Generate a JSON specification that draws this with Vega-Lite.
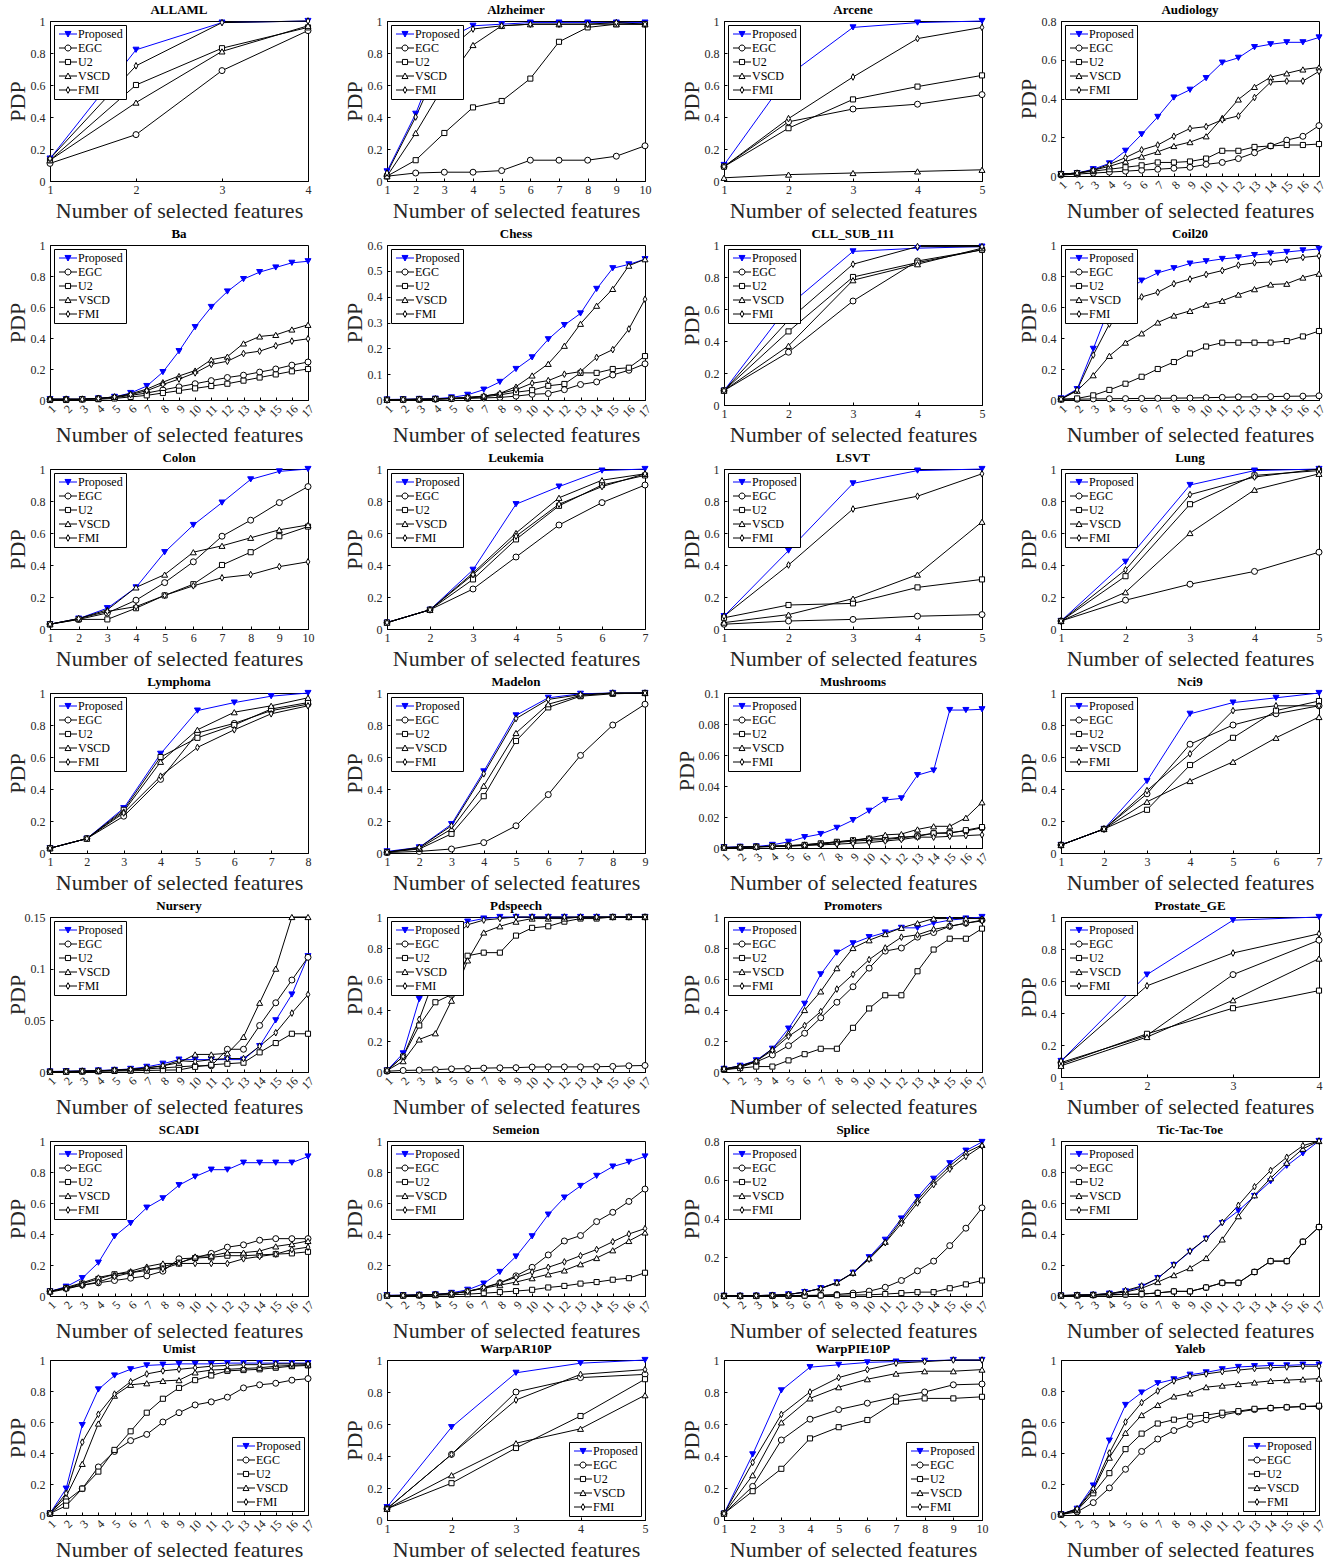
{
"$schema": "https://vega.github.io/schema/vega-lite/v6.json",
"background": "white",
"padding": {"left": 5, "top": 3, "right": 5, "bottom": 5},
"autosize": {"type": "pad"},
"data": {"values": [
{"d":"ALLAML","x":1,"Proposed":0.14,"EGC":0.11,"U2":0.13,"VSCD":0.13,"FMI":0.14},
{"d":"ALLAML","x":2,"Proposed":0.82,"EGC":0.29,"U2":0.60,"VSCD":0.49,"FMI":0.72},
{"d":"ALLAML","x":3,"Proposed":0.99,"EGC":0.69,"U2":0.83,"VSCD":0.81,"FMI":0.99},
{"d":"ALLAML","x":4,"Proposed":1.0,"EGC":0.94,"U2":0.96,"VSCD":0.97,"FMI":1.0},
{"d":"Alzheimer","x":1,"Proposed":0.06,"EGC":0.03,"U2":0.03,"VSCD":0.03,"FMI":0.05},
{"d":"Alzheimer","x":2,"Proposed":0.42,"EGC":0.05,"U2":0.13,"VSCD":0.30,"FMI":0.40},
{"d":"Alzheimer","x":3,"Proposed":0.88,"EGC":0.055,"U2":0.30,"VSCD":0.60,"FMI":0.80},
{"d":"Alzheimer","x":4,"Proposed":0.97,"EGC":0.055,"U2":0.46,"VSCD":0.85,"FMI":0.95},
{"d":"Alzheimer","x":5,"Proposed":0.98,"EGC":0.065,"U2":0.50,"VSCD":0.97,"FMI":0.97},
{"d":"Alzheimer","x":6,"Proposed":0.99,"EGC":0.13,"U2":0.64,"VSCD":0.98,"FMI":0.98},
{"d":"Alzheimer","x":7,"Proposed":0.99,"EGC":0.13,"U2":0.87,"VSCD":0.98,"FMI":0.98},
{"d":"Alzheimer","x":8,"Proposed":0.99,"EGC":0.13,"U2":0.96,"VSCD":0.98,"FMI":0.98},
{"d":"Alzheimer","x":9,"Proposed":0.99,"EGC":0.155,"U2":0.98,"VSCD":0.98,"FMI":0.99},
{"d":"Alzheimer","x":10,"Proposed":0.99,"EGC":0.22,"U2":0.98,"VSCD":0.98,"FMI":0.98},
{"d":"Arcene","x":1,"Proposed":0.10,"EGC":0.09,"U2":0.09,"VSCD":0.02,"FMI":0.09},
{"d":"Arcene","x":2,"Proposed":0.66,"EGC":0.37,"U2":0.33,"VSCD":0.04,"FMI":0.39},
{"d":"Arcene","x":3,"Proposed":0.96,"EGC":0.45,"U2":0.51,"VSCD":0.05,"FMI":0.65},
{"d":"Arcene","x":4,"Proposed":0.99,"EGC":0.48,"U2":0.59,"VSCD":0.06,"FMI":0.89},
{"d":"Arcene","x":5,"Proposed":1.0,"EGC":0.54,"U2":0.66,"VSCD":0.07,"FMI":0.96},
{"d":"Audiology","x":1,"Proposed":0.01,"EGC":0.005,"U2":0.01,"VSCD":0.01,"FMI":0.01},
{"d":"Audiology","x":2,"Proposed":0.015,"EGC":0.01,"U2":0.015,"VSCD":0.015,"FMI":0.015},
{"d":"Audiology","x":3,"Proposed":0.035,"EGC":0.015,"U2":0.025,"VSCD":0.03,"FMI":0.03},
{"d":"Audiology","x":4,"Proposed":0.065,"EGC":0.02,"U2":0.035,"VSCD":0.05,"FMI":0.06},
{"d":"Audiology","x":5,"Proposed":0.13,"EGC":0.025,"U2":0.045,"VSCD":0.075,"FMI":0.095},
{"d":"Audiology","x":6,"Proposed":0.215,"EGC":0.03,"U2":0.055,"VSCD":0.10,"FMI":0.135},
{"d":"Audiology","x":7,"Proposed":0.305,"EGC":0.035,"U2":0.07,"VSCD":0.125,"FMI":0.16},
{"d":"Audiology","x":8,"Proposed":0.405,"EGC":0.04,"U2":0.07,"VSCD":0.155,"FMI":0.205},
{"d":"Audiology","x":9,"Proposed":0.445,"EGC":0.045,"U2":0.075,"VSCD":0.175,"FMI":0.245},
{"d":"Audiology","x":10,"Proposed":0.505,"EGC":0.06,"U2":0.09,"VSCD":0.205,"FMI":0.255},
{"d":"Audiology","x":11,"Proposed":0.585,"EGC":0.07,"U2":0.13,"VSCD":0.30,"FMI":0.29},
{"d":"Audiology","x":12,"Proposed":0.61,"EGC":0.09,"U2":0.13,"VSCD":0.395,"FMI":0.31},
{"d":"Audiology","x":13,"Proposed":0.665,"EGC":0.12,"U2":0.15,"VSCD":0.46,"FMI":0.405},
{"d":"Audiology","x":14,"Proposed":0.68,"EGC":0.155,"U2":0.155,"VSCD":0.51,"FMI":0.485},
{"d":"Audiology","x":15,"Proposed":0.69,"EGC":0.185,"U2":0.16,"VSCD":0.53,"FMI":0.49},
{"d":"Audiology","x":16,"Proposed":0.69,"EGC":0.205,"U2":0.16,"VSCD":0.55,"FMI":0.49},
{"d":"Audiology","x":17,"Proposed":0.715,"EGC":0.26,"U2":0.165,"VSCD":0.56,"FMI":0.54},
{"d":"Ba","x":1,"Proposed":0.005,"EGC":0.005,"U2":0.0,"VSCD":0.005,"FMI":0.005},
{"d":"Ba","x":2,"Proposed":0.005,"EGC":0.005,"U2":0.0,"VSCD":0.005,"FMI":0.005},
{"d":"Ba","x":3,"Proposed":0.005,"EGC":0.005,"U2":0.005,"VSCD":0.005,"FMI":0.005},
{"d":"Ba","x":4,"Proposed":0.01,"EGC":0.01,"U2":0.005,"VSCD":0.01,"FMI":0.01},
{"d":"Ba","x":5,"Proposed":0.02,"EGC":0.015,"U2":0.01,"VSCD":0.02,"FMI":0.02},
{"d":"Ba","x":6,"Proposed":0.045,"EGC":0.03,"U2":0.02,"VSCD":0.04,"FMI":0.035},
{"d":"Ba","x":7,"Proposed":0.09,"EGC":0.045,"U2":0.03,"VSCD":0.07,"FMI":0.06},
{"d":"Ba","x":8,"Proposed":0.18,"EGC":0.065,"U2":0.045,"VSCD":0.115,"FMI":0.10},
{"d":"Ba","x":9,"Proposed":0.315,"EGC":0.085,"U2":0.06,"VSCD":0.155,"FMI":0.135},
{"d":"Ba","x":10,"Proposed":0.47,"EGC":0.105,"U2":0.075,"VSCD":0.19,"FMI":0.175},
{"d":"Ba","x":11,"Proposed":0.60,"EGC":0.125,"U2":0.09,"VSCD":0.26,"FMI":0.23},
{"d":"Ba","x":12,"Proposed":0.70,"EGC":0.145,"U2":0.105,"VSCD":0.28,"FMI":0.25},
{"d":"Ba","x":13,"Proposed":0.78,"EGC":0.16,"U2":0.125,"VSCD":0.365,"FMI":0.30},
{"d":"Ba","x":14,"Proposed":0.825,"EGC":0.18,"U2":0.145,"VSCD":0.41,"FMI":0.315},
{"d":"Ba","x":15,"Proposed":0.855,"EGC":0.20,"U2":0.165,"VSCD":0.42,"FMI":0.35},
{"d":"Ba","x":16,"Proposed":0.885,"EGC":0.225,"U2":0.185,"VSCD":0.455,"FMI":0.38},
{"d":"Ba","x":17,"Proposed":0.895,"EGC":0.245,"U2":0.20,"VSCD":0.485,"FMI":0.395},
{"d":"Chess","x":1,"Proposed":0.002,"EGC":0.0,"U2":0.001,"VSCD":0.001,"FMI":0.001},
{"d":"Chess","x":2,"Proposed":0.003,"EGC":0.001,"U2":0.002,"VSCD":0.002,"FMI":0.002},
{"d":"Chess","x":3,"Proposed":0.004,"EGC":0.002,"U2":0.003,"VSCD":0.003,"FMI":0.003},
{"d":"Chess","x":4,"Proposed":0.005,"EGC":0.003,"U2":0.004,"VSCD":0.004,"FMI":0.004},
{"d":"Chess","x":5,"Proposed":0.01,"EGC":0.005,"U2":0.006,"VSCD":0.006,"FMI":0.006},
{"d":"Chess","x":6,"Proposed":0.02,"EGC":0.006,"U2":0.008,"VSCD":0.01,"FMI":0.01},
{"d":"Chess","x":7,"Proposed":0.04,"EGC":0.008,"U2":0.012,"VSCD":0.015,"FMI":0.015},
{"d":"Chess","x":8,"Proposed":0.07,"EGC":0.01,"U2":0.02,"VSCD":0.025,"FMI":0.025},
{"d":"Chess","x":9,"Proposed":0.12,"EGC":0.015,"U2":0.03,"VSCD":0.052,"FMI":0.04},
{"d":"Chess","x":10,"Proposed":0.165,"EGC":0.022,"U2":0.038,"VSCD":0.095,"FMI":0.065},
{"d":"Chess","x":11,"Proposed":0.235,"EGC":0.025,"U2":0.055,"VSCD":0.14,"FMI":0.075},
{"d":"Chess","x":12,"Proposed":0.29,"EGC":0.04,"U2":0.062,"VSCD":0.21,"FMI":0.10},
{"d":"Chess","x":13,"Proposed":0.335,"EGC":0.06,"U2":0.105,"VSCD":0.295,"FMI":0.11},
{"d":"Chess","x":14,"Proposed":0.43,"EGC":0.07,"U2":0.105,"VSCD":0.365,"FMI":0.165},
{"d":"Chess","x":15,"Proposed":0.51,"EGC":0.097,"U2":0.12,"VSCD":0.43,"FMI":0.195},
{"d":"Chess","x":16,"Proposed":0.525,"EGC":0.115,"U2":0.125,"VSCD":0.52,"FMI":0.275},
{"d":"Chess","x":17,"Proposed":0.545,"EGC":0.14,"U2":0.17,"VSCD":0.545,"FMI":0.39},
{"d":"CLL_SUB_111","x":1,"Proposed":0.09,"EGC":0.09,"U2":0.09,"VSCD":0.09,"FMI":0.09},
{"d":"CLL_SUB_111","x":2,"Proposed":0.62,"EGC":0.33,"U2":0.46,"VSCD":0.37,"FMI":0.53},
{"d":"CLL_SUB_111","x":3,"Proposed":0.96,"EGC":0.65,"U2":0.80,"VSCD":0.78,"FMI":0.88},
{"d":"CLL_SUB_111","x":4,"Proposed":0.98,"EGC":0.90,"U2":0.89,"VSCD":0.88,"FMI":0.99},
{"d":"CLL_SUB_111","x":5,"Proposed":0.99,"EGC":0.97,"U2":0.97,"VSCD":0.98,"FMI":0.99},
{"d":"Coil20","x":1,"Proposed":0.01,"EGC":0.005,"U2":0.005,"VSCD":0.005,"FMI":0.005},
{"d":"Coil20","x":2,"Proposed":0.07,"EGC":0.005,"U2":0.01,"VSCD":0.06,"FMI":0.065},
{"d":"Coil20","x":3,"Proposed":0.33,"EGC":0.007,"U2":0.03,"VSCD":0.16,"FMI":0.29},
{"d":"Coil20","x":4,"Proposed":0.60,"EGC":0.008,"U2":0.065,"VSCD":0.285,"FMI":0.49},
{"d":"Coil20","x":5,"Proposed":0.70,"EGC":0.009,"U2":0.105,"VSCD":0.37,"FMI":0.60},
{"d":"Coil20","x":6,"Proposed":0.77,"EGC":0.01,"U2":0.15,"VSCD":0.43,"FMI":0.665},
{"d":"Coil20","x":7,"Proposed":0.82,"EGC":0.011,"U2":0.20,"VSCD":0.50,"FMI":0.695},
{"d":"Coil20","x":8,"Proposed":0.85,"EGC":0.012,"U2":0.245,"VSCD":0.545,"FMI":0.75},
{"d":"Coil20","x":9,"Proposed":0.88,"EGC":0.013,"U2":0.30,"VSCD":0.575,"FMI":0.78},
{"d":"Coil20","x":10,"Proposed":0.895,"EGC":0.015,"U2":0.345,"VSCD":0.615,"FMI":0.81},
{"d":"Coil20","x":11,"Proposed":0.91,"EGC":0.017,"U2":0.37,"VSCD":0.64,"FMI":0.835},
{"d":"Coil20","x":12,"Proposed":0.92,"EGC":0.02,"U2":0.37,"VSCD":0.68,"FMI":0.87},
{"d":"Coil20","x":13,"Proposed":0.935,"EGC":0.02,"U2":0.37,"VSCD":0.715,"FMI":0.885},
{"d":"Coil20","x":14,"Proposed":0.945,"EGC":0.022,"U2":0.37,"VSCD":0.745,"FMI":0.89},
{"d":"Coil20","x":15,"Proposed":0.955,"EGC":0.024,"U2":0.38,"VSCD":0.75,"FMI":0.905},
{"d":"Coil20","x":16,"Proposed":0.965,"EGC":0.025,"U2":0.41,"VSCD":0.79,"FMI":0.92},
{"d":"Coil20","x":17,"Proposed":0.975,"EGC":0.027,"U2":0.445,"VSCD":0.815,"FMI":0.93},
{"d":"Colon","x":1,"Proposed":0.03,"EGC":0.03,"U2":0.03,"VSCD":0.03,"FMI":0.03},
{"d":"Colon","x":2,"Proposed":0.065,"EGC":0.06,"U2":0.06,"VSCD":0.065,"FMI":0.065},
{"d":"Colon","x":3,"Proposed":0.13,"EGC":0.10,"U2":0.06,"VSCD":0.12,"FMI":0.11},
{"d":"Colon","x":4,"Proposed":0.26,"EGC":0.18,"U2":0.13,"VSCD":0.26,"FMI":0.14},
{"d":"Colon","x":5,"Proposed":0.48,"EGC":0.29,"U2":0.21,"VSCD":0.34,"FMI":0.21},
{"d":"Colon","x":6,"Proposed":0.65,"EGC":0.42,"U2":0.28,"VSCD":0.48,"FMI":0.27},
{"d":"Colon","x":7,"Proposed":0.79,"EGC":0.58,"U2":0.40,"VSCD":0.52,"FMI":0.32},
{"d":"Colon","x":8,"Proposed":0.935,"EGC":0.68,"U2":0.48,"VSCD":0.57,"FMI":0.34},
{"d":"Colon","x":9,"Proposed":0.985,"EGC":0.79,"U2":0.58,"VSCD":0.62,"FMI":0.39},
{"d":"Colon","x":10,"Proposed":1.0,"EGC":0.89,"U2":0.64,"VSCD":0.65,"FMI":0.42},
{"d":"Leukemia","x":1,"Proposed":0.04,"EGC":0.04,"U2":0.04,"VSCD":0.04,"FMI":0.04},
{"d":"Leukemia","x":2,"Proposed":0.12,"EGC":0.12,"U2":0.12,"VSCD":0.12,"FMI":0.12},
{"d":"Leukemia","x":3,"Proposed":0.37,"EGC":0.25,"U2":0.31,"VSCD":0.35,"FMI":0.34},
{"d":"Leukemia","x":4,"Proposed":0.78,"EGC":0.45,"U2":0.56,"VSCD":0.60,"FMI":0.58},
{"d":"Leukemia","x":5,"Proposed":0.89,"EGC":0.65,"U2":0.77,"VSCD":0.82,"FMI":0.78},
{"d":"Leukemia","x":6,"Proposed":0.99,"EGC":0.79,"U2":0.90,"VSCD":0.93,"FMI":0.89},
{"d":"Leukemia","x":7,"Proposed":1.0,"EGC":0.90,"U2":0.96,"VSCD":0.97,"FMI":0.97},
{"d":"LSVT","x":1,"Proposed":0.08,"EGC":0.03,"U2":0.07,"VSCD":0.04,"FMI":0.08},
{"d":"LSVT","x":2,"Proposed":0.49,"EGC":0.05,"U2":0.15,"VSCD":0.09,"FMI":0.40},
{"d":"LSVT","x":3,"Proposed":0.91,"EGC":0.06,"U2":0.16,"VSCD":0.19,"FMI":0.75},
{"d":"LSVT","x":4,"Proposed":0.99,"EGC":0.08,"U2":0.26,"VSCD":0.34,"FMI":0.83},
{"d":"LSVT","x":5,"Proposed":1.0,"EGC":0.09,"U2":0.31,"VSCD":0.67,"FMI":0.97},
{"d":"Lung","x":1,"Proposed":0.05,"EGC":0.05,"U2":0.05,"VSCD":0.05,"FMI":0.05},
{"d":"Lung","x":2,"Proposed":0.42,"EGC":0.18,"U2":0.33,"VSCD":0.23,"FMI":0.37},
{"d":"Lung","x":3,"Proposed":0.90,"EGC":0.28,"U2":0.78,"VSCD":0.60,"FMI":0.84},
{"d":"Lung","x":4,"Proposed":0.99,"EGC":0.36,"U2":0.96,"VSCD":0.87,"FMI":0.95},
{"d":"Lung","x":5,"Proposed":1.0,"EGC":0.48,"U2":0.99,"VSCD":0.97,"FMI":1.0},
{"d":"Lymphoma","x":1,"Proposed":0.03,"EGC":0.03,"U2":0.03,"VSCD":0.03,"FMI":0.03},
{"d":"Lymphoma","x":2,"Proposed":0.09,"EGC":0.09,"U2":0.09,"VSCD":0.09,"FMI":0.09},
{"d":"Lymphoma","x":3,"Proposed":0.28,"EGC":0.23,"U2":0.27,"VSCD":0.26,"FMI":0.25},
{"d":"Lymphoma","x":4,"Proposed":0.62,"EGC":0.46,"U2":0.60,"VSCD":0.57,"FMI":0.48},
{"d":"Lymphoma","x":5,"Proposed":0.89,"EGC":0.75,"U2":0.72,"VSCD":0.77,"FMI":0.66},
{"d":"Lymphoma","x":6,"Proposed":0.94,"EGC":0.81,"U2":0.80,"VSCD":0.88,"FMI":0.77},
{"d":"Lymphoma","x":7,"Proposed":0.98,"EGC":0.89,"U2":0.90,"VSCD":0.92,"FMI":0.87},
{"d":"Lymphoma","x":8,"Proposed":1.0,"EGC":0.93,"U2":0.94,"VSCD":0.97,"FMI":0.92},
{"d":"Madelon","x":1,"Proposed":0.01,"EGC":0.003,"U2":0.005,"VSCD":0.005,"FMI":0.005},
{"d":"Madelon","x":2,"Proposed":0.035,"EGC":0.01,"U2":0.025,"VSCD":0.03,"FMI":0.035},
{"d":"Madelon","x":3,"Proposed":0.18,"EGC":0.025,"U2":0.12,"VSCD":0.15,"FMI":0.17},
{"d":"Madelon","x":4,"Proposed":0.51,"EGC":0.065,"U2":0.355,"VSCD":0.42,"FMI":0.495},
{"d":"Madelon","x":5,"Proposed":0.86,"EGC":0.17,"U2":0.70,"VSCD":0.75,"FMI":0.84},
{"d":"Madelon","x":6,"Proposed":0.97,"EGC":0.365,"U2":0.91,"VSCD":0.93,"FMI":0.96},
{"d":"Madelon","x":7,"Proposed":0.995,"EGC":0.61,"U2":0.98,"VSCD":0.985,"FMI":0.99},
{"d":"Madelon","x":8,"Proposed":1.0,"EGC":0.80,"U2":0.995,"VSCD":1.0,"FMI":1.0},
{"d":"Madelon","x":9,"Proposed":1.0,"EGC":0.93,"U2":1.0,"VSCD":1.0,"FMI":1.0},
{"d":"Mushrooms","x":1,"Proposed":0.0005,"EGC":0.0003,"U2":0.0003,"VSCD":0.0003,"FMI":0.0002},
{"d":"Mushrooms","x":2,"Proposed":0.0008,"EGC":0.0005,"U2":0.0005,"VSCD":0.0005,"FMI":0.0004},
{"d":"Mushrooms","x":3,"Proposed":0.001,"EGC":0.0008,"U2":0.0008,"VSCD":0.0008,"FMI":0.0006},
{"d":"Mushrooms","x":4,"Proposed":0.002,"EGC":0.001,"U2":0.0012,"VSCD":0.0012,"FMI":0.0009},
{"d":"Mushrooms","x":5,"Proposed":0.004,"EGC":0.0013,"U2":0.0015,"VSCD":0.0015,"FMI":0.0012},
{"d":"Mushrooms","x":6,"Proposed":0.007,"EGC":0.0018,"U2":0.002,"VSCD":0.0022,"FMI":0.0016},
{"d":"Mushrooms","x":7,"Proposed":0.009,"EGC":0.0025,"U2":0.003,"VSCD":0.003,"FMI":0.002},
{"d":"Mushrooms","x":8,"Proposed":0.013,"EGC":0.0035,"U2":0.004,"VSCD":0.004,"FMI":0.0025},
{"d":"Mushrooms","x":9,"Proposed":0.018,"EGC":0.0045,"U2":0.005,"VSCD":0.005,"FMI":0.003},
{"d":"Mushrooms","x":10,"Proposed":0.024,"EGC":0.005,"U2":0.006,"VSCD":0.0065,"FMI":0.0035},
{"d":"Mushrooms","x":11,"Proposed":0.031,"EGC":0.0055,"U2":0.006,"VSCD":0.0085,"FMI":0.0045},
{"d":"Mushrooms","x":12,"Proposed":0.032,"EGC":0.0065,"U2":0.007,"VSCD":0.009,"FMI":0.0055},
{"d":"Mushrooms","x":13,"Proposed":0.047,"EGC":0.008,"U2":0.0075,"VSCD":0.012,"FMI":0.007},
{"d":"Mushrooms","x":14,"Proposed":0.05,"EGC":0.0095,"U2":0.0095,"VSCD":0.014,"FMI":0.007},
{"d":"Mushrooms","x":15,"Proposed":0.089,"EGC":0.01,"U2":0.0095,"VSCD":0.014,"FMI":0.0075},
{"d":"Mushrooms","x":16,"Proposed":0.089,"EGC":0.011,"U2":0.0115,"VSCD":0.0195,"FMI":0.008},
{"d":"Mushrooms","x":17,"Proposed":0.0895,"EGC":0.013,"U2":0.0135,"VSCD":0.0295,"FMI":0.0085},
{"d":"Nci9","x":1,"Proposed":0.05,"EGC":0.05,"U2":0.05,"VSCD":0.05,"FMI":0.05},
{"d":"Nci9","x":2,"Proposed":0.15,"EGC":0.15,"U2":0.15,"VSCD":0.15,"FMI":0.15},
{"d":"Nci9","x":3,"Proposed":0.45,"EGC":0.37,"U2":0.27,"VSCD":0.32,"FMI":0.39},
{"d":"Nci9","x":4,"Proposed":0.87,"EGC":0.68,"U2":0.55,"VSCD":0.45,"FMI":0.62},
{"d":"Nci9","x":5,"Proposed":0.94,"EGC":0.80,"U2":0.72,"VSCD":0.57,"FMI":0.89},
{"d":"Nci9","x":6,"Proposed":0.97,"EGC":0.87,"U2":0.89,"VSCD":0.72,"FMI":0.92},
{"d":"Nci9","x":7,"Proposed":1.0,"EGC":0.92,"U2":0.95,"VSCD":0.85,"FMI":0.92},
{"d":"Nursery","x":1,"Proposed":0.0005,"EGC":0.0003,"U2":0.0002,"VSCD":0.0003,"FMI":0.0003},
{"d":"Nursery","x":2,"Proposed":0.0008,"EGC":0.0005,"U2":0.0003,"VSCD":0.0005,"FMI":0.0005},
{"d":"Nursery","x":3,"Proposed":0.001,"EGC":0.0008,"U2":0.0005,"VSCD":0.0008,"FMI":0.0008},
{"d":"Nursery","x":4,"Proposed":0.0015,"EGC":0.001,"U2":0.0007,"VSCD":0.0012,"FMI":0.0012},
{"d":"Nursery","x":5,"Proposed":0.002,"EGC":0.0015,"U2":0.001,"VSCD":0.0018,"FMI":0.0018},
{"d":"Nursery","x":6,"Proposed":0.003,"EGC":0.002,"U2":0.0012,"VSCD":0.0025,"FMI":0.0025},
{"d":"Nursery","x":7,"Proposed":0.005,"EGC":0.003,"U2":0.0015,"VSCD":0.004,"FMI":0.004},
{"d":"Nursery","x":8,"Proposed":0.008,"EGC":0.004,"U2":0.0018,"VSCD":0.006,"FMI":0.006},
{"d":"Nursery","x":9,"Proposed":0.012,"EGC":0.005,"U2":0.002,"VSCD":0.009,"FMI":0.011},
{"d":"Nursery","x":10,"Proposed":0.012,"EGC":0.006,"U2":0.005,"VSCD":0.017,"FMI":0.010},
{"d":"Nursery","x":11,"Proposed":0.012,"EGC":0.006,"U2":0.007,"VSCD":0.017,"FMI":0.012},
{"d":"Nursery","x":12,"Proposed":0.012,"EGC":0.022,"U2":0.008,"VSCD":0.018,"FMI":0.013},
{"d":"Nursery","x":13,"Proposed":0.012,"EGC":0.022,"U2":0.009,"VSCD":0.034,"FMI":0.013},
{"d":"Nursery","x":14,"Proposed":0.025,"EGC":0.045,"U2":0.019,"VSCD":0.067,"FMI":0.025},
{"d":"Nursery","x":15,"Proposed":0.05,"EGC":0.067,"U2":0.028,"VSCD":0.10,"FMI":0.038},
{"d":"Nursery","x":16,"Proposed":0.075,"EGC":0.089,"U2":0.037,"VSCD":0.15,"FMI":0.057},
{"d":"Nursery","x":17,"Proposed":0.112,"EGC":0.111,"U2":0.037,"VSCD":0.15,"FMI":0.075},
{"d":"Pdspeech","x":1,"Proposed":0.01,"EGC":0.005,"U2":0.01,"VSCD":0.01,"FMI":0.01},
{"d":"Pdspeech","x":2,"Proposed":0.12,"EGC":0.01,"U2":0.10,"VSCD":0.07,"FMI":0.10},
{"d":"Pdspeech","x":3,"Proposed":0.47,"EGC":0.012,"U2":0.30,"VSCD":0.21,"FMI":0.34},
{"d":"Pdspeech","x":4,"Proposed":0.80,"EGC":0.015,"U2":0.45,"VSCD":0.25,"FMI":0.62},
{"d":"Pdspeech","x":5,"Proposed":0.93,"EGC":0.02,"U2":0.50,"VSCD":0.46,"FMI":0.85},
{"d":"Pdspeech","x":6,"Proposed":0.97,"EGC":0.022,"U2":0.75,"VSCD":0.72,"FMI":0.95},
{"d":"Pdspeech","x":7,"Proposed":0.99,"EGC":0.025,"U2":0.77,"VSCD":0.90,"FMI":0.98},
{"d":"Pdspeech","x":8,"Proposed":1.0,"EGC":0.027,"U2":0.77,"VSCD":0.94,"FMI":0.99},
{"d":"Pdspeech","x":9,"Proposed":1.0,"EGC":0.028,"U2":0.88,"VSCD":0.97,"FMI":1.0},
{"d":"Pdspeech","x":10,"Proposed":1.0,"EGC":0.032,"U2":0.93,"VSCD":0.99,"FMI":1.0},
{"d":"Pdspeech","x":11,"Proposed":1.0,"EGC":0.033,"U2":0.94,"VSCD":0.99,"FMI":1.0},
{"d":"Pdspeech","x":12,"Proposed":1.0,"EGC":0.033,"U2":0.97,"VSCD":0.99,"FMI":1.0},
{"d":"Pdspeech","x":13,"Proposed":1.0,"EGC":0.033,"U2":0.99,"VSCD":1.0,"FMI":1.0},
{"d":"Pdspeech","x":14,"Proposed":1.0,"EGC":0.034,"U2":0.99,"VSCD":1.0,"FMI":1.0},
{"d":"Pdspeech","x":15,"Proposed":1.0,"EGC":0.036,"U2":1.0,"VSCD":1.0,"FMI":1.0},
{"d":"Pdspeech","x":16,"Proposed":1.0,"EGC":0.04,"U2":1.0,"VSCD":1.0,"FMI":1.0},
{"d":"Pdspeech","x":17,"Proposed":1.0,"EGC":0.042,"U2":1.0,"VSCD":1.0,"FMI":1.0},
{"d":"Promoters","x":1,"Proposed":0.02,"EGC":0.015,"U2":0.015,"VSCD":0.02,"FMI":0.02},
{"d":"Promoters","x":2,"Proposed":0.04,"EGC":0.03,"U2":0.025,"VSCD":0.04,"FMI":0.035},
{"d":"Promoters","x":3,"Proposed":0.075,"EGC":0.065,"U2":0.035,"VSCD":0.07,"FMI":0.07},
{"d":"Promoters","x":4,"Proposed":0.15,"EGC":0.11,"U2":0.035,"VSCD":0.15,"FMI":0.14},
{"d":"Promoters","x":5,"Proposed":0.28,"EGC":0.17,"U2":0.075,"VSCD":0.25,"FMI":0.23},
{"d":"Promoters","x":6,"Proposed":0.44,"EGC":0.25,"U2":0.115,"VSCD":0.40,"FMI":0.30},
{"d":"Promoters","x":7,"Proposed":0.63,"EGC":0.35,"U2":0.15,"VSCD":0.52,"FMI":0.39},
{"d":"Promoters","x":8,"Proposed":0.77,"EGC":0.45,"U2":0.15,"VSCD":0.67,"FMI":0.535},
{"d":"Promoters","x":9,"Proposed":0.83,"EGC":0.55,"U2":0.285,"VSCD":0.80,"FMI":0.63},
{"d":"Promoters","x":10,"Proposed":0.87,"EGC":0.67,"U2":0.41,"VSCD":0.85,"FMI":0.725},
{"d":"Promoters","x":11,"Proposed":0.90,"EGC":0.78,"U2":0.495,"VSCD":0.89,"FMI":0.80},
{"d":"Promoters","x":12,"Proposed":0.93,"EGC":0.80,"U2":0.495,"VSCD":0.93,"FMI":0.87},
{"d":"Promoters","x":13,"Proposed":0.93,"EGC":0.87,"U2":0.65,"VSCD":0.96,"FMI":0.885},
{"d":"Promoters","x":14,"Proposed":0.96,"EGC":0.90,"U2":0.79,"VSCD":0.99,"FMI":0.92},
{"d":"Promoters","x":15,"Proposed":0.98,"EGC":0.94,"U2":0.86,"VSCD":0.99,"FMI":0.94},
{"d":"Promoters","x":16,"Proposed":0.99,"EGC":0.96,"U2":0.86,"VSCD":0.99,"FMI":0.96},
{"d":"Promoters","x":17,"Proposed":1.0,"EGC":0.98,"U2":0.925,"VSCD":0.99,"FMI":0.975},
{"d":"Prostate_GE","x":1,"Proposed":0.10,"EGC":0.09,"U2":0.08,"VSCD":0.07,"FMI":0.10},
{"d":"Prostate_GE","x":2,"Proposed":0.64,"EGC":0.26,"U2":0.27,"VSCD":0.25,"FMI":0.57},
{"d":"Prostate_GE","x":3,"Proposed":0.98,"EGC":0.64,"U2":0.43,"VSCD":0.48,"FMI":0.775},
{"d":"Prostate_GE","x":4,"Proposed":1.0,"EGC":0.855,"U2":0.54,"VSCD":0.74,"FMI":0.895},
{"d":"SCADI","x":1,"Proposed":0.03,"EGC":0.03,"U2":0.03,"VSCD":0.03,"FMI":0.025},
{"d":"SCADI","x":2,"Proposed":0.06,"EGC":0.05,"U2":0.05,"VSCD":0.055,"FMI":0.045},
{"d":"SCADI","x":3,"Proposed":0.115,"EGC":0.07,"U2":0.08,"VSCD":0.085,"FMI":0.07},
{"d":"SCADI","x":4,"Proposed":0.215,"EGC":0.085,"U2":0.11,"VSCD":0.12,"FMI":0.09},
{"d":"SCADI","x":5,"Proposed":0.385,"EGC":0.10,"U2":0.14,"VSCD":0.14,"FMI":0.125},
{"d":"SCADI","x":6,"Proposed":0.47,"EGC":0.115,"U2":0.15,"VSCD":0.16,"FMI":0.15},
{"d":"SCADI","x":7,"Proposed":0.57,"EGC":0.13,"U2":0.165,"VSCD":0.19,"FMI":0.175},
{"d":"SCADI","x":8,"Proposed":0.63,"EGC":0.16,"U2":0.19,"VSCD":0.21,"FMI":0.175},
{"d":"SCADI","x":9,"Proposed":0.715,"EGC":0.24,"U2":0.215,"VSCD":0.21,"FMI":0.21},
{"d":"SCADI","x":10,"Proposed":0.77,"EGC":0.245,"U2":0.245,"VSCD":0.255,"FMI":0.21},
{"d":"SCADI","x":11,"Proposed":0.815,"EGC":0.275,"U2":0.25,"VSCD":0.26,"FMI":0.21},
{"d":"SCADI","x":12,"Proposed":0.815,"EGC":0.315,"U2":0.26,"VSCD":0.28,"FMI":0.21},
{"d":"SCADI","x":13,"Proposed":0.86,"EGC":0.33,"U2":0.26,"VSCD":0.28,"FMI":0.24},
{"d":"SCADI","x":14,"Proposed":0.86,"EGC":0.36,"U2":0.265,"VSCD":0.29,"FMI":0.255},
{"d":"SCADI","x":15,"Proposed":0.86,"EGC":0.37,"U2":0.27,"VSCD":0.32,"FMI":0.27},
{"d":"SCADI","x":16,"Proposed":0.86,"EGC":0.37,"U2":0.275,"VSCD":0.335,"FMI":0.30},
{"d":"SCADI","x":17,"Proposed":0.90,"EGC":0.37,"U2":0.285,"VSCD":0.355,"FMI":0.315},
{"d":"Semeion","x":1,"Proposed":0.005,"EGC":0.003,"U2":0.002,"VSCD":0.003,"FMI":0.003},
{"d":"Semeion","x":2,"Proposed":0.005,"EGC":0.004,"U2":0.003,"VSCD":0.004,"FMI":0.004},
{"d":"Semeion","x":3,"Proposed":0.008,"EGC":0.006,"U2":0.004,"VSCD":0.006,"FMI":0.006},
{"d":"Semeion","x":4,"Proposed":0.01,"EGC":0.01,"U2":0.005,"VSCD":0.01,"FMI":0.01},
{"d":"Semeion","x":5,"Proposed":0.02,"EGC":0.015,"U2":0.008,"VSCD":0.015,"FMI":0.015},
{"d":"Semeion","x":6,"Proposed":0.04,"EGC":0.03,"U2":0.012,"VSCD":0.03,"FMI":0.03},
{"d":"Semeion","x":7,"Proposed":0.08,"EGC":0.05,"U2":0.018,"VSCD":0.05,"FMI":0.055},
{"d":"Semeion","x":8,"Proposed":0.155,"EGC":0.085,"U2":0.025,"VSCD":0.07,"FMI":0.085},
{"d":"Semeion","x":9,"Proposed":0.255,"EGC":0.13,"U2":0.032,"VSCD":0.09,"FMI":0.12},
{"d":"Semeion","x":10,"Proposed":0.385,"EGC":0.185,"U2":0.04,"VSCD":0.115,"FMI":0.155},
{"d":"Semeion","x":11,"Proposed":0.525,"EGC":0.265,"U2":0.055,"VSCD":0.14,"FMI":0.185},
{"d":"Semeion","x":12,"Proposed":0.635,"EGC":0.355,"U2":0.065,"VSCD":0.165,"FMI":0.22},
{"d":"Semeion","x":13,"Proposed":0.71,"EGC":0.39,"U2":0.08,"VSCD":0.205,"FMI":0.26},
{"d":"Semeion","x":14,"Proposed":0.775,"EGC":0.48,"U2":0.09,"VSCD":0.245,"FMI":0.30},
{"d":"Semeion","x":15,"Proposed":0.835,"EGC":0.54,"U2":0.105,"VSCD":0.295,"FMI":0.35},
{"d":"Semeion","x":16,"Proposed":0.865,"EGC":0.61,"U2":0.115,"VSCD":0.355,"FMI":0.40},
{"d":"Semeion","x":17,"Proposed":0.90,"EGC":0.69,"U2":0.15,"VSCD":0.41,"FMI":0.435},
{"d":"Splice","x":1,"Proposed":0.001,"EGC":0.0,"U2":0.0,"VSCD":0.001,"FMI":0.001},
{"d":"Splice","x":2,"Proposed":0.001,"EGC":0.0,"U2":0.0,"VSCD":0.001,"FMI":0.001},
{"d":"Splice","x":3,"Proposed":0.002,"EGC":0.001,"U2":0.0,"VSCD":0.002,"FMI":0.002},
{"d":"Splice","x":4,"Proposed":0.004,"EGC":0.001,"U2":0.001,"VSCD":0.004,"FMI":0.004},
{"d":"Splice","x":5,"Proposed":0.008,"EGC":0.002,"U2":0.001,"VSCD":0.008,"FMI":0.008},
{"d":"Splice","x":6,"Proposed":0.02,"EGC":0.003,"U2":0.002,"VSCD":0.02,"FMI":0.02},
{"d":"Splice","x":7,"Proposed":0.04,"EGC":0.004,"U2":0.003,"VSCD":0.04,"FMI":0.038},
{"d":"Splice","x":8,"Proposed":0.07,"EGC":0.008,"U2":0.004,"VSCD":0.07,"FMI":0.068},
{"d":"Splice","x":9,"Proposed":0.12,"EGC":0.015,"U2":0.005,"VSCD":0.12,"FMI":0.118},
{"d":"Splice","x":10,"Proposed":0.20,"EGC":0.025,"U2":0.006,"VSCD":0.195,"FMI":0.19},
{"d":"Splice","x":11,"Proposed":0.29,"EGC":0.045,"U2":0.01,"VSCD":0.28,"FMI":0.275},
{"d":"Splice","x":12,"Proposed":0.40,"EGC":0.08,"U2":0.015,"VSCD":0.39,"FMI":0.375},
{"d":"Splice","x":13,"Proposed":0.51,"EGC":0.13,"U2":0.02,"VSCD":0.495,"FMI":0.48},
{"d":"Splice","x":14,"Proposed":0.605,"EGC":0.18,"U2":0.02,"VSCD":0.59,"FMI":0.575},
{"d":"Splice","x":15,"Proposed":0.685,"EGC":0.26,"U2":0.04,"VSCD":0.67,"FMI":0.655},
{"d":"Splice","x":16,"Proposed":0.75,"EGC":0.35,"U2":0.06,"VSCD":0.74,"FMI":0.72},
{"d":"Splice","x":17,"Proposed":0.795,"EGC":0.455,"U2":0.08,"VSCD":0.78,"FMI":0.775},
{"d":"Tic-Tac-Toe","x":1,"Proposed":0.003,"EGC":0.003,"U2":0.003,"VSCD":0.003,"FMI":0.003},
{"d":"Tic-Tac-Toe","x":2,"Proposed":0.005,"EGC":0.005,"U2":0.005,"VSCD":0.005,"FMI":0.005},
{"d":"Tic-Tac-Toe","x":3,"Proposed":0.008,"EGC":0.006,"U2":0.006,"VSCD":0.008,"FMI":0.008},
{"d":"Tic-Tac-Toe","x":4,"Proposed":0.015,"EGC":0.008,"U2":0.008,"VSCD":0.015,"FMI":0.015},
{"d":"Tic-Tac-Toe","x":5,"Proposed":0.03,"EGC":0.01,"U2":0.01,"VSCD":0.025,"FMI":0.035},
{"d":"Tic-Tac-Toe","x":6,"Proposed":0.06,"EGC":0.012,"U2":0.012,"VSCD":0.05,"FMI":0.065},
{"d":"Tic-Tac-Toe","x":7,"Proposed":0.115,"EGC":0.02,"U2":0.02,"VSCD":0.09,"FMI":0.115},
{"d":"Tic-Tac-Toe","x":8,"Proposed":0.20,"EGC":0.03,"U2":0.03,"VSCD":0.135,"FMI":0.20},
{"d":"Tic-Tac-Toe","x":9,"Proposed":0.285,"EGC":0.03,"U2":0.03,"VSCD":0.18,"FMI":0.29},
{"d":"Tic-Tac-Toe","x":10,"Proposed":0.37,"EGC":0.055,"U2":0.055,"VSCD":0.245,"FMI":0.37},
{"d":"Tic-Tac-Toe","x":11,"Proposed":0.47,"EGC":0.085,"U2":0.085,"VSCD":0.365,"FMI":0.475},
{"d":"Tic-Tac-Toe","x":12,"Proposed":0.55,"EGC":0.085,"U2":0.085,"VSCD":0.515,"FMI":0.585},
{"d":"Tic-Tac-Toe","x":13,"Proposed":0.645,"EGC":0.155,"U2":0.155,"VSCD":0.65,"FMI":0.705},
{"d":"Tic-Tac-Toe","x":14,"Proposed":0.74,"EGC":0.225,"U2":0.225,"VSCD":0.76,"FMI":0.81},
{"d":"Tic-Tac-Toe","x":15,"Proposed":0.84,"EGC":0.225,"U2":0.225,"VSCD":0.86,"FMI":0.895},
{"d":"Tic-Tac-Toe","x":16,"Proposed":0.92,"EGC":0.35,"U2":0.35,"VSCD":0.95,"FMI":0.97},
{"d":"Tic-Tac-Toe","x":17,"Proposed":1.0,"EGC":0.445,"U2":0.445,"VSCD":1.0,"FMI":1.0},
{"d":"Umist","x":1,"Proposed":0.01,"EGC":0.01,"U2":0.01,"VSCD":0.01,"FMI":0.01},
{"d":"Umist","x":2,"Proposed":0.17,"EGC":0.09,"U2":0.06,"VSCD":0.12,"FMI":0.14},
{"d":"Umist","x":3,"Proposed":0.58,"EGC":0.17,"U2":0.17,"VSCD":0.33,"FMI":0.47},
{"d":"Umist","x":4,"Proposed":0.81,"EGC":0.31,"U2":0.28,"VSCD":0.59,"FMI":0.65},
{"d":"Umist","x":5,"Proposed":0.90,"EGC":0.41,"U2":0.42,"VSCD":0.77,"FMI":0.78},
{"d":"Umist","x":6,"Proposed":0.94,"EGC":0.48,"U2":0.54,"VSCD":0.84,"FMI":0.86},
{"d":"Umist","x":7,"Proposed":0.965,"EGC":0.52,"U2":0.66,"VSCD":0.85,"FMI":0.91},
{"d":"Umist","x":8,"Proposed":0.97,"EGC":0.60,"U2":0.75,"VSCD":0.865,"FMI":0.93},
{"d":"Umist","x":9,"Proposed":0.975,"EGC":0.66,"U2":0.82,"VSCD":0.87,"FMI":0.94},
{"d":"Umist","x":10,"Proposed":0.975,"EGC":0.71,"U2":0.87,"VSCD":0.92,"FMI":0.95},
{"d":"Umist","x":11,"Proposed":0.975,"EGC":0.73,"U2":0.90,"VSCD":0.935,"FMI":0.96},
{"d":"Umist","x":12,"Proposed":0.98,"EGC":0.76,"U2":0.93,"VSCD":0.94,"FMI":0.965},
{"d":"Umist","x":13,"Proposed":0.98,"EGC":0.82,"U2":0.935,"VSCD":0.945,"FMI":0.97},
{"d":"Umist","x":14,"Proposed":0.98,"EGC":0.84,"U2":0.94,"VSCD":0.95,"FMI":0.97},
{"d":"Umist","x":15,"Proposed":0.98,"EGC":0.85,"U2":0.95,"VSCD":0.96,"FMI":0.975},
{"d":"Umist","x":16,"Proposed":0.98,"EGC":0.87,"U2":0.96,"VSCD":0.965,"FMI":0.975},
{"d":"Umist","x":17,"Proposed":0.98,"EGC":0.88,"U2":0.965,"VSCD":0.97,"FMI":0.975},
{"d":"WarpAR10P","x":1,"Proposed":0.08,"EGC":0.07,"U2":0.07,"VSCD":0.07,"FMI":0.07},
{"d":"WarpAR10P","x":2,"Proposed":0.58,"EGC":0.41,"U2":0.23,"VSCD":0.28,"FMI":0.41},
{"d":"WarpAR10P","x":3,"Proposed":0.92,"EGC":0.80,"U2":0.45,"VSCD":0.48,"FMI":0.75},
{"d":"WarpAR10P","x":4,"Proposed":0.98,"EGC":0.89,"U2":0.65,"VSCD":0.57,"FMI":0.91},
{"d":"WarpAR10P","x":5,"Proposed":1.0,"EGC":0.91,"U2":0.88,"VSCD":0.78,"FMI":0.94},
{"d":"WarpPIE10P","x":1,"Proposed":0.04,"EGC":0.04,"U2":0.04,"VSCD":0.04,"FMI":0.04},
{"d":"WarpPIE10P","x":2,"Proposed":0.41,"EGC":0.21,"U2":0.18,"VSCD":0.28,"FMI":0.36},
{"d":"WarpPIE10P","x":3,"Proposed":0.81,"EGC":0.50,"U2":0.32,"VSCD":0.61,"FMI":0.66},
{"d":"WarpPIE10P","x":4,"Proposed":0.955,"EGC":0.63,"U2":0.51,"VSCD":0.76,"FMI":0.80},
{"d":"WarpPIE10P","x":5,"Proposed":0.97,"EGC":0.69,"U2":0.58,"VSCD":0.83,"FMI":0.89},
{"d":"WarpPIE10P","x":6,"Proposed":0.985,"EGC":0.73,"U2":0.625,"VSCD":0.88,"FMI":0.94},
{"d":"WarpPIE10P","x":7,"Proposed":0.99,"EGC":0.77,"U2":0.74,"VSCD":0.915,"FMI":0.98},
{"d":"WarpPIE10P","x":8,"Proposed":0.995,"EGC":0.80,"U2":0.76,"VSCD":0.93,"FMI":0.99},
{"d":"WarpPIE10P","x":9,"Proposed":1.0,"EGC":0.845,"U2":0.76,"VSCD":0.93,"FMI":1.0},
{"d":"WarpPIE10P","x":10,"Proposed":1.0,"EGC":0.85,"U2":0.77,"VSCD":0.94,"FMI":1.0},
{"d":"Yaleb","x":1,"Proposed":0.005,"EGC":0.003,"U2":0.003,"VSCD":0.005,"FMI":0.005},
{"d":"Yaleb","x":2,"Proposed":0.04,"EGC":0.02,"U2":0.03,"VSCD":0.035,"FMI":0.04},
{"d":"Yaleb","x":3,"Proposed":0.19,"EGC":0.08,"U2":0.14,"VSCD":0.16,"FMI":0.17},
{"d":"Yaleb","x":4,"Proposed":0.48,"EGC":0.175,"U2":0.27,"VSCD":0.37,"FMI":0.40},
{"d":"Yaleb","x":5,"Proposed":0.71,"EGC":0.295,"U2":0.425,"VSCD":0.53,"FMI":0.60},
{"d":"Yaleb","x":6,"Proposed":0.79,"EGC":0.41,"U2":0.525,"VSCD":0.645,"FMI":0.725},
{"d":"Yaleb","x":7,"Proposed":0.85,"EGC":0.49,"U2":0.59,"VSCD":0.71,"FMI":0.80},
{"d":"Yaleb","x":8,"Proposed":0.875,"EGC":0.545,"U2":0.615,"VSCD":0.765,"FMI":0.865},
{"d":"Yaleb","x":9,"Proposed":0.905,"EGC":0.585,"U2":0.635,"VSCD":0.785,"FMI":0.895},
{"d":"Yaleb","x":10,"Proposed":0.92,"EGC":0.615,"U2":0.645,"VSCD":0.825,"FMI":0.91},
{"d":"Yaleb","x":11,"Proposed":0.94,"EGC":0.645,"U2":0.66,"VSCD":0.835,"FMI":0.925},
{"d":"Yaleb","x":12,"Proposed":0.955,"EGC":0.665,"U2":0.67,"VSCD":0.845,"FMI":0.935},
{"d":"Yaleb","x":13,"Proposed":0.96,"EGC":0.68,"U2":0.685,"VSCD":0.855,"FMI":0.945},
{"d":"Yaleb","x":14,"Proposed":0.965,"EGC":0.69,"U2":0.69,"VSCD":0.865,"FMI":0.95},
{"d":"Yaleb","x":15,"Proposed":0.965,"EGC":0.695,"U2":0.695,"VSCD":0.87,"FMI":0.955},
{"d":"Yaleb","x":16,"Proposed":0.97,"EGC":0.70,"U2":0.70,"VSCD":0.875,"FMI":0.96},
{"d":"Yaleb","x":17,"Proposed":0.97,"EGC":0.70,"U2":0.705,"VSCD":0.88,"FMI":0.96}
]},
"transform": [{"fold": ["Proposed","EGC","U2","VSCD","FMI"], "as": ["s","v"]}],
"columns": 4,
"bounds": "flush",
"spacing": {"row": 64, "column": 79},
"concat": [
{"title":"ALLAML","width":258,"height":160,"transform":[{"filter":"datum.d==='ALLAML'"}],"encoding":{"x":{"field":"x","type":"quantitative","scale":{"domain":[1,4]},"axis":{"values":[1,2,3,4],"title":"Number of selected features"}},"y":{"field":"v","type":"quantitative","scale":{"domain":[0,1]},"axis":{"values":[0,0.2,0.4,0.6,0.8,1],"format":"~f","title":"PDP"}}},"layer":[
{"mark":{"type":"line","strokeWidth":1},"encoding":{"stroke":{"field":"s","type":"nominal","legend":null,"scale":{"domain":["Proposed","EGC","U2","VSCD","FMI"],"range":["#0000ff","black","black","black","black"]}}}},
{"mark":{"type":"point","filled":true,"opacity":1,"size":36,"strokeWidth":1},"encoding":{"shape":{"field":"s","type":"nominal","legend":null,"scale":{"domain":["Proposed","EGC","U2","VSCD","FMI"],"range":["triangle-down","circle","M-0.85,-0.85H0.85V0.85H-0.85Z","triangle-up","M0,-1.1L0.6,0L0,1.1L-0.6,0Z"]}},"stroke":{"field":"s","type":"nominal","legend":null,"scale":{"domain":["Proposed","EGC","U2","VSCD","FMI"],"range":["#0000ff","black","black","black","black"]}},"fill":{"field":"s","type":"nominal","legend":null,"scale":{"domain":["Proposed","EGC","U2","VSCD","FMI"],"range":["#0000ff","white","white","white","white"]}}}},
{"transform":[{"filter":"false"}],"mark":{"type":"point","filled":true,"opacity":1,"size":36,"strokeWidth":1},"encoding":{"shape":{"field":"s","type":"nominal","legend":{"title":null},"scale":{"domain":["Proposed","EGC","U2","VSCD","FMI"],"range":["M-3,0H-0.55M0.55,0H3M-1,-0.85H1L0,1Z","M-3,0H-1M1,0H3M-1,0A1,1,0,1,0,1,0A1,1,0,1,0,-1,0Z","M-3,0H-0.85M0.85,0H3M-0.85,-0.85H0.85V0.85H-0.85Z","M-3,0H-0.55M0.55,0H3M0,-1L1,0.85H-1Z","M-3,0H-0.6M0.6,0H3M0,-1.1L0.6,0L0,1.1L-0.6,0Z"]}},"stroke":{"field":"s","type":"nominal","legend":{"title":null},"scale":{"domain":["Proposed","EGC","U2","VSCD","FMI"],"range":["#0000ff","black","black","black","black"]}},"fill":{"field":"s","type":"nominal","legend":{"title":null},"scale":{"domain":["Proposed","EGC","U2","VSCD","FMI"],"range":["#0000ff","white","white","white","white"]}}}}
],"resolve":{"scale":{"shape":"independent","stroke":"independent","fill":"independent"}}},
{"title":"Alzheimer","width":258,"height":160,"transform":[{"filter":"datum.d==='Alzheimer'"}],"encoding":{"x":{"field":"x","type":"quantitative","scale":{"domain":[1,10]},"axis":{"values":[1,2,3,4,5,6,7,8,9,10],"title":"Number of selected features"}},"y":{"field":"v","type":"quantitative","scale":{"domain":[0,1]},"axis":{"values":[0,0.2,0.4,0.6,0.8,1],"format":"~f","title":"PDP"}}},"layer":[
{"mark":{"type":"line","strokeWidth":1},"encoding":{"stroke":{"field":"s","type":"nominal","legend":null,"scale":{"domain":["Proposed","EGC","U2","VSCD","FMI"],"range":["#0000ff","black","black","black","black"]}}}},
{"mark":{"type":"point","filled":true,"opacity":1,"size":36,"strokeWidth":1},"encoding":{"shape":{"field":"s","type":"nominal","legend":null,"scale":{"domain":["Proposed","EGC","U2","VSCD","FMI"],"range":["triangle-down","circle","M-0.85,-0.85H0.85V0.85H-0.85Z","triangle-up","M0,-1.1L0.6,0L0,1.1L-0.6,0Z"]}},"stroke":{"field":"s","type":"nominal","legend":null,"scale":{"domain":["Proposed","EGC","U2","VSCD","FMI"],"range":["#0000ff","black","black","black","black"]}},"fill":{"field":"s","type":"nominal","legend":null,"scale":{"domain":["Proposed","EGC","U2","VSCD","FMI"],"range":["#0000ff","white","white","white","white"]}}}},
{"transform":[{"filter":"false"}],"mark":{"type":"point","filled":true,"opacity":1,"size":36,"strokeWidth":1},"encoding":{"shape":{"field":"s","type":"nominal","legend":{"title":null},"scale":{"domain":["Proposed","EGC","U2","VSCD","FMI"],"range":["M-3,0H-0.55M0.55,0H3M-1,-0.85H1L0,1Z","M-3,0H-1M1,0H3M-1,0A1,1,0,1,0,1,0A1,1,0,1,0,-1,0Z","M-3,0H-0.85M0.85,0H3M-0.85,-0.85H0.85V0.85H-0.85Z","M-3,0H-0.55M0.55,0H3M0,-1L1,0.85H-1Z","M-3,0H-0.6M0.6,0H3M0,-1.1L0.6,0L0,1.1L-0.6,0Z"]}},"stroke":{"field":"s","type":"nominal","legend":{"title":null},"scale":{"domain":["Proposed","EGC","U2","VSCD","FMI"],"range":["#0000ff","black","black","black","black"]}},"fill":{"field":"s","type":"nominal","legend":{"title":null},"scale":{"domain":["Proposed","EGC","U2","VSCD","FMI"],"range":["#0000ff","white","white","white","white"]}}}}
],"resolve":{"scale":{"shape":"independent","stroke":"independent","fill":"independent"}}},
{"title":"Arcene","width":258,"height":160,"transform":[{"filter":"datum.d==='Arcene'"}],"encoding":{"x":{"field":"x","type":"quantitative","scale":{"domain":[1,5]},"axis":{"values":[1,2,3,4,5],"title":"Number of selected features"}},"y":{"field":"v","type":"quantitative","scale":{"domain":[0,1]},"axis":{"values":[0,0.2,0.4,0.6,0.8,1],"format":"~f","title":"PDP"}}},"layer":[
{"mark":{"type":"line","strokeWidth":1},"encoding":{"stroke":{"field":"s","type":"nominal","legend":null,"scale":{"domain":["Proposed","EGC","U2","VSCD","FMI"],"range":["#0000ff","black","black","black","black"]}}}},
{"mark":{"type":"point","filled":true,"opacity":1,"size":36,"strokeWidth":1},"encoding":{"shape":{"field":"s","type":"nominal","legend":null,"scale":{"domain":["Proposed","EGC","U2","VSCD","FMI"],"range":["triangle-down","circle","M-0.85,-0.85H0.85V0.85H-0.85Z","triangle-up","M0,-1.1L0.6,0L0,1.1L-0.6,0Z"]}},"stroke":{"field":"s","type":"nominal","legend":null,"scale":{"domain":["Proposed","EGC","U2","VSCD","FMI"],"range":["#0000ff","black","black","black","black"]}},"fill":{"field":"s","type":"nominal","legend":null,"scale":{"domain":["Proposed","EGC","U2","VSCD","FMI"],"range":["#0000ff","white","white","white","white"]}}}},
{"transform":[{"filter":"false"}],"mark":{"type":"point","filled":true,"opacity":1,"size":36,"strokeWidth":1},"encoding":{"shape":{"field":"s","type":"nominal","legend":{"title":null},"scale":{"domain":["Proposed","EGC","U2","VSCD","FMI"],"range":["M-3,0H-0.55M0.55,0H3M-1,-0.85H1L0,1Z","M-3,0H-1M1,0H3M-1,0A1,1,0,1,0,1,0A1,1,0,1,0,-1,0Z","M-3,0H-0.85M0.85,0H3M-0.85,-0.85H0.85V0.85H-0.85Z","M-3,0H-0.55M0.55,0H3M0,-1L1,0.85H-1Z","M-3,0H-0.6M0.6,0H3M0,-1.1L0.6,0L0,1.1L-0.6,0Z"]}},"stroke":{"field":"s","type":"nominal","legend":{"title":null},"scale":{"domain":["Proposed","EGC","U2","VSCD","FMI"],"range":["#0000ff","black","black","black","black"]}},"fill":{"field":"s","type":"nominal","legend":{"title":null},"scale":{"domain":["Proposed","EGC","U2","VSCD","FMI"],"range":["#0000ff","white","white","white","white"]}}}}
],"resolve":{"scale":{"shape":"independent","stroke":"independent","fill":"independent"}}},
{"title":"Audiology","width":258,"height":155,"transform":[{"filter":"datum.d==='Audiology'"}],"encoding":{"x":{"field":"x","type":"quantitative","scale":{"domain":[1,17]},"axis":{"values":[1,2,3,4,5,6,7,8,9,10,11,12,13,14,15,16,17],"labelAngle":-45,"titleY":24,"title":"Number of selected features"}},"y":{"field":"v","type":"quantitative","scale":{"domain":[0,0.8]},"axis":{"values":[0,0.2,0.4,0.6,0.8],"format":"~f","title":"PDP"}}},"layer":[
{"mark":{"type":"line","strokeWidth":1},"encoding":{"stroke":{"field":"s","type":"nominal","legend":null,"scale":{"domain":["Proposed","EGC","U2","VSCD","FMI"],"range":["#0000ff","black","black","black","black"]}}}},
{"mark":{"type":"point","filled":true,"opacity":1,"size":36,"strokeWidth":1},"encoding":{"shape":{"field":"s","type":"nominal","legend":null,"scale":{"domain":["Proposed","EGC","U2","VSCD","FMI"],"range":["triangle-down","circle","M-0.85,-0.85H0.85V0.85H-0.85Z","triangle-up","M0,-1.1L0.6,0L0,1.1L-0.6,0Z"]}},"stroke":{"field":"s","type":"nominal","legend":null,"scale":{"domain":["Proposed","EGC","U2","VSCD","FMI"],"range":["#0000ff","black","black","black","black"]}},"fill":{"field":"s","type":"nominal","legend":null,"scale":{"domain":["Proposed","EGC","U2","VSCD","FMI"],"range":["#0000ff","white","white","white","white"]}}}},
{"transform":[{"filter":"false"}],"mark":{"type":"point","filled":true,"opacity":1,"size":36,"strokeWidth":1},"encoding":{"shape":{"field":"s","type":"nominal","legend":{"title":null},"scale":{"domain":["Proposed","EGC","U2","VSCD","FMI"],"range":["M-3,0H-0.55M0.55,0H3M-1,-0.85H1L0,1Z","M-3,0H-1M1,0H3M-1,0A1,1,0,1,0,1,0A1,1,0,1,0,-1,0Z","M-3,0H-0.85M0.85,0H3M-0.85,-0.85H0.85V0.85H-0.85Z","M-3,0H-0.55M0.55,0H3M0,-1L1,0.85H-1Z","M-3,0H-0.6M0.6,0H3M0,-1.1L0.6,0L0,1.1L-0.6,0Z"]}},"stroke":{"field":"s","type":"nominal","legend":{"title":null},"scale":{"domain":["Proposed","EGC","U2","VSCD","FMI"],"range":["#0000ff","black","black","black","black"]}},"fill":{"field":"s","type":"nominal","legend":{"title":null},"scale":{"domain":["Proposed","EGC","U2","VSCD","FMI"],"range":["#0000ff","white","white","white","white"]}}}}
],"resolve":{"scale":{"shape":"independent","stroke":"independent","fill":"independent"}}},
{"title":"Ba","width":258,"height":155,"transform":[{"filter":"datum.d==='Ba'"}],"encoding":{"x":{"field":"x","type":"quantitative","scale":{"domain":[1,17]},"axis":{"values":[1,2,3,4,5,6,7,8,9,10,11,12,13,14,15,16,17],"labelAngle":-45,"titleY":24,"title":"Number of selected features"}},"y":{"field":"v","type":"quantitative","scale":{"domain":[0,1]},"axis":{"values":[0,0.2,0.4,0.6,0.8,1],"format":"~f","title":"PDP"}}},"layer":[
{"mark":{"type":"line","strokeWidth":1},"encoding":{"stroke":{"field":"s","type":"nominal","legend":null,"scale":{"domain":["Proposed","EGC","U2","VSCD","FMI"],"range":["#0000ff","black","black","black","black"]}}}},
{"mark":{"type":"point","filled":true,"opacity":1,"size":36,"strokeWidth":1},"encoding":{"shape":{"field":"s","type":"nominal","legend":null,"scale":{"domain":["Proposed","EGC","U2","VSCD","FMI"],"range":["triangle-down","circle","M-0.85,-0.85H0.85V0.85H-0.85Z","triangle-up","M0,-1.1L0.6,0L0,1.1L-0.6,0Z"]}},"stroke":{"field":"s","type":"nominal","legend":null,"scale":{"domain":["Proposed","EGC","U2","VSCD","FMI"],"range":["#0000ff","black","black","black","black"]}},"fill":{"field":"s","type":"nominal","legend":null,"scale":{"domain":["Proposed","EGC","U2","VSCD","FMI"],"range":["#0000ff","white","white","white","white"]}}}},
{"transform":[{"filter":"false"}],"mark":{"type":"point","filled":true,"opacity":1,"size":36,"strokeWidth":1},"encoding":{"shape":{"field":"s","type":"nominal","legend":{"title":null},"scale":{"domain":["Proposed","EGC","U2","VSCD","FMI"],"range":["M-3,0H-0.55M0.55,0H3M-1,-0.85H1L0,1Z","M-3,0H-1M1,0H3M-1,0A1,1,0,1,0,1,0A1,1,0,1,0,-1,0Z","M-3,0H-0.85M0.85,0H3M-0.85,-0.85H0.85V0.85H-0.85Z","M-3,0H-0.55M0.55,0H3M0,-1L1,0.85H-1Z","M-3,0H-0.6M0.6,0H3M0,-1.1L0.6,0L0,1.1L-0.6,0Z"]}},"stroke":{"field":"s","type":"nominal","legend":{"title":null},"scale":{"domain":["Proposed","EGC","U2","VSCD","FMI"],"range":["#0000ff","black","black","black","black"]}},"fill":{"field":"s","type":"nominal","legend":{"title":null},"scale":{"domain":["Proposed","EGC","U2","VSCD","FMI"],"range":["#0000ff","white","white","white","white"]}}}}
],"resolve":{"scale":{"shape":"independent","stroke":"independent","fill":"independent"}}},
{"title":"Chess","width":258,"height":155,"transform":[{"filter":"datum.d==='Chess'"}],"encoding":{"x":{"field":"x","type":"quantitative","scale":{"domain":[1,17]},"axis":{"values":[1,2,3,4,5,6,7,8,9,10,11,12,13,14,15,16,17],"labelAngle":-45,"titleY":24,"title":"Number of selected features"}},"y":{"field":"v","type":"quantitative","scale":{"domain":[0,0.6]},"axis":{"values":[0,0.1,0.2,0.3,0.4,0.5,0.6],"format":"~f","title":"PDP"}}},"layer":[
{"mark":{"type":"line","strokeWidth":1},"encoding":{"stroke":{"field":"s","type":"nominal","legend":null,"scale":{"domain":["Proposed","EGC","U2","VSCD","FMI"],"range":["#0000ff","black","black","black","black"]}}}},
{"mark":{"type":"point","filled":true,"opacity":1,"size":36,"strokeWidth":1},"encoding":{"shape":{"field":"s","type":"nominal","legend":null,"scale":{"domain":["Proposed","EGC","U2","VSCD","FMI"],"range":["triangle-down","circle","M-0.85,-0.85H0.85V0.85H-0.85Z","triangle-up","M0,-1.1L0.6,0L0,1.1L-0.6,0Z"]}},"stroke":{"field":"s","type":"nominal","legend":null,"scale":{"domain":["Proposed","EGC","U2","VSCD","FMI"],"range":["#0000ff","black","black","black","black"]}},"fill":{"field":"s","type":"nominal","legend":null,"scale":{"domain":["Proposed","EGC","U2","VSCD","FMI"],"range":["#0000ff","white","white","white","white"]}}}},
{"transform":[{"filter":"false"}],"mark":{"type":"point","filled":true,"opacity":1,"size":36,"strokeWidth":1},"encoding":{"shape":{"field":"s","type":"nominal","legend":{"title":null},"scale":{"domain":["Proposed","EGC","U2","VSCD","FMI"],"range":["M-3,0H-0.55M0.55,0H3M-1,-0.85H1L0,1Z","M-3,0H-1M1,0H3M-1,0A1,1,0,1,0,1,0A1,1,0,1,0,-1,0Z","M-3,0H-0.85M0.85,0H3M-0.85,-0.85H0.85V0.85H-0.85Z","M-3,0H-0.55M0.55,0H3M0,-1L1,0.85H-1Z","M-3,0H-0.6M0.6,0H3M0,-1.1L0.6,0L0,1.1L-0.6,0Z"]}},"stroke":{"field":"s","type":"nominal","legend":{"title":null},"scale":{"domain":["Proposed","EGC","U2","VSCD","FMI"],"range":["#0000ff","black","black","black","black"]}},"fill":{"field":"s","type":"nominal","legend":{"title":null},"scale":{"domain":["Proposed","EGC","U2","VSCD","FMI"],"range":["#0000ff","white","white","white","white"]}}}}
],"resolve":{"scale":{"shape":"independent","stroke":"independent","fill":"independent"}}},
{"title":"CLL_SUB_111","width":258,"height":160,"transform":[{"filter":"datum.d==='CLL_SUB_111'"}],"encoding":{"x":{"field":"x","type":"quantitative","scale":{"domain":[1,5]},"axis":{"values":[1,2,3,4,5],"title":"Number of selected features"}},"y":{"field":"v","type":"quantitative","scale":{"domain":[0,1]},"axis":{"values":[0,0.2,0.4,0.6,0.8,1],"format":"~f","title":"PDP"}}},"layer":[
{"mark":{"type":"line","strokeWidth":1},"encoding":{"stroke":{"field":"s","type":"nominal","legend":null,"scale":{"domain":["Proposed","EGC","U2","VSCD","FMI"],"range":["#0000ff","black","black","black","black"]}}}},
{"mark":{"type":"point","filled":true,"opacity":1,"size":36,"strokeWidth":1},"encoding":{"shape":{"field":"s","type":"nominal","legend":null,"scale":{"domain":["Proposed","EGC","U2","VSCD","FMI"],"range":["triangle-down","circle","M-0.85,-0.85H0.85V0.85H-0.85Z","triangle-up","M0,-1.1L0.6,0L0,1.1L-0.6,0Z"]}},"stroke":{"field":"s","type":"nominal","legend":null,"scale":{"domain":["Proposed","EGC","U2","VSCD","FMI"],"range":["#0000ff","black","black","black","black"]}},"fill":{"field":"s","type":"nominal","legend":null,"scale":{"domain":["Proposed","EGC","U2","VSCD","FMI"],"range":["#0000ff","white","white","white","white"]}}}},
{"transform":[{"filter":"false"}],"mark":{"type":"point","filled":true,"opacity":1,"size":36,"strokeWidth":1},"encoding":{"shape":{"field":"s","type":"nominal","legend":{"title":null},"scale":{"domain":["Proposed","EGC","U2","VSCD","FMI"],"range":["M-3,0H-0.55M0.55,0H3M-1,-0.85H1L0,1Z","M-3,0H-1M1,0H3M-1,0A1,1,0,1,0,1,0A1,1,0,1,0,-1,0Z","M-3,0H-0.85M0.85,0H3M-0.85,-0.85H0.85V0.85H-0.85Z","M-3,0H-0.55M0.55,0H3M0,-1L1,0.85H-1Z","M-3,0H-0.6M0.6,0H3M0,-1.1L0.6,0L0,1.1L-0.6,0Z"]}},"stroke":{"field":"s","type":"nominal","legend":{"title":null},"scale":{"domain":["Proposed","EGC","U2","VSCD","FMI"],"range":["#0000ff","black","black","black","black"]}},"fill":{"field":"s","type":"nominal","legend":{"title":null},"scale":{"domain":["Proposed","EGC","U2","VSCD","FMI"],"range":["#0000ff","white","white","white","white"]}}}}
],"resolve":{"scale":{"shape":"independent","stroke":"independent","fill":"independent"}}},
{"title":"Coil20","width":258,"height":155,"transform":[{"filter":"datum.d==='Coil20'"}],"encoding":{"x":{"field":"x","type":"quantitative","scale":{"domain":[1,17]},"axis":{"values":[1,2,3,4,5,6,7,8,9,10,11,12,13,14,15,16,17],"labelAngle":-45,"titleY":24,"title":"Number of selected features"}},"y":{"field":"v","type":"quantitative","scale":{"domain":[0,1]},"axis":{"values":[0,0.2,0.4,0.6,0.8,1],"format":"~f","title":"PDP"}}},"layer":[
{"mark":{"type":"line","strokeWidth":1},"encoding":{"stroke":{"field":"s","type":"nominal","legend":null,"scale":{"domain":["Proposed","EGC","U2","VSCD","FMI"],"range":["#0000ff","black","black","black","black"]}}}},
{"mark":{"type":"point","filled":true,"opacity":1,"size":36,"strokeWidth":1},"encoding":{"shape":{"field":"s","type":"nominal","legend":null,"scale":{"domain":["Proposed","EGC","U2","VSCD","FMI"],"range":["triangle-down","circle","M-0.85,-0.85H0.85V0.85H-0.85Z","triangle-up","M0,-1.1L0.6,0L0,1.1L-0.6,0Z"]}},"stroke":{"field":"s","type":"nominal","legend":null,"scale":{"domain":["Proposed","EGC","U2","VSCD","FMI"],"range":["#0000ff","black","black","black","black"]}},"fill":{"field":"s","type":"nominal","legend":null,"scale":{"domain":["Proposed","EGC","U2","VSCD","FMI"],"range":["#0000ff","white","white","white","white"]}}}},
{"transform":[{"filter":"false"}],"mark":{"type":"point","filled":true,"opacity":1,"size":36,"strokeWidth":1},"encoding":{"shape":{"field":"s","type":"nominal","legend":{"title":null},"scale":{"domain":["Proposed","EGC","U2","VSCD","FMI"],"range":["M-3,0H-0.55M0.55,0H3M-1,-0.85H1L0,1Z","M-3,0H-1M1,0H3M-1,0A1,1,0,1,0,1,0A1,1,0,1,0,-1,0Z","M-3,0H-0.85M0.85,0H3M-0.85,-0.85H0.85V0.85H-0.85Z","M-3,0H-0.55M0.55,0H3M0,-1L1,0.85H-1Z","M-3,0H-0.6M0.6,0H3M0,-1.1L0.6,0L0,1.1L-0.6,0Z"]}},"stroke":{"field":"s","type":"nominal","legend":{"title":null},"scale":{"domain":["Proposed","EGC","U2","VSCD","FMI"],"range":["#0000ff","black","black","black","black"]}},"fill":{"field":"s","type":"nominal","legend":{"title":null},"scale":{"domain":["Proposed","EGC","U2","VSCD","FMI"],"range":["#0000ff","white","white","white","white"]}}}}
],"resolve":{"scale":{"shape":"independent","stroke":"independent","fill":"independent"}}},
{"title":"Colon","width":258,"height":160,"transform":[{"filter":"datum.d==='Colon'"}],"encoding":{"x":{"field":"x","type":"quantitative","scale":{"domain":[1,10]},"axis":{"values":[1,2,3,4,5,6,7,8,9,10],"title":"Number of selected features"}},"y":{"field":"v","type":"quantitative","scale":{"domain":[0,1]},"axis":{"values":[0,0.2,0.4,0.6,0.8,1],"format":"~f","title":"PDP"}}},"layer":[
{"mark":{"type":"line","strokeWidth":1},"encoding":{"stroke":{"field":"s","type":"nominal","legend":null,"scale":{"domain":["Proposed","EGC","U2","VSCD","FMI"],"range":["#0000ff","black","black","black","black"]}}}},
{"mark":{"type":"point","filled":true,"opacity":1,"size":36,"strokeWidth":1},"encoding":{"shape":{"field":"s","type":"nominal","legend":null,"scale":{"domain":["Proposed","EGC","U2","VSCD","FMI"],"range":["triangle-down","circle","M-0.85,-0.85H0.85V0.85H-0.85Z","triangle-up","M0,-1.1L0.6,0L0,1.1L-0.6,0Z"]}},"stroke":{"field":"s","type":"nominal","legend":null,"scale":{"domain":["Proposed","EGC","U2","VSCD","FMI"],"range":["#0000ff","black","black","black","black"]}},"fill":{"field":"s","type":"nominal","legend":null,"scale":{"domain":["Proposed","EGC","U2","VSCD","FMI"],"range":["#0000ff","white","white","white","white"]}}}},
{"transform":[{"filter":"false"}],"mark":{"type":"point","filled":true,"opacity":1,"size":36,"strokeWidth":1},"encoding":{"shape":{"field":"s","type":"nominal","legend":{"title":null},"scale":{"domain":["Proposed","EGC","U2","VSCD","FMI"],"range":["M-3,0H-0.55M0.55,0H3M-1,-0.85H1L0,1Z","M-3,0H-1M1,0H3M-1,0A1,1,0,1,0,1,0A1,1,0,1,0,-1,0Z","M-3,0H-0.85M0.85,0H3M-0.85,-0.85H0.85V0.85H-0.85Z","M-3,0H-0.55M0.55,0H3M0,-1L1,0.85H-1Z","M-3,0H-0.6M0.6,0H3M0,-1.1L0.6,0L0,1.1L-0.6,0Z"]}},"stroke":{"field":"s","type":"nominal","legend":{"title":null},"scale":{"domain":["Proposed","EGC","U2","VSCD","FMI"],"range":["#0000ff","black","black","black","black"]}},"fill":{"field":"s","type":"nominal","legend":{"title":null},"scale":{"domain":["Proposed","EGC","U2","VSCD","FMI"],"range":["#0000ff","white","white","white","white"]}}}}
],"resolve":{"scale":{"shape":"independent","stroke":"independent","fill":"independent"}}},
{"title":"Leukemia","width":258,"height":160,"transform":[{"filter":"datum.d==='Leukemia'"}],"encoding":{"x":{"field":"x","type":"quantitative","scale":{"domain":[1,7]},"axis":{"values":[1,2,3,4,5,6,7],"title":"Number of selected features"}},"y":{"field":"v","type":"quantitative","scale":{"domain":[0,1]},"axis":{"values":[0,0.2,0.4,0.6,0.8,1],"format":"~f","title":"PDP"}}},"layer":[
{"mark":{"type":"line","strokeWidth":1},"encoding":{"stroke":{"field":"s","type":"nominal","legend":null,"scale":{"domain":["Proposed","EGC","U2","VSCD","FMI"],"range":["#0000ff","black","black","black","black"]}}}},
{"mark":{"type":"point","filled":true,"opacity":1,"size":36,"strokeWidth":1},"encoding":{"shape":{"field":"s","type":"nominal","legend":null,"scale":{"domain":["Proposed","EGC","U2","VSCD","FMI"],"range":["triangle-down","circle","M-0.85,-0.85H0.85V0.85H-0.85Z","triangle-up","M0,-1.1L0.6,0L0,1.1L-0.6,0Z"]}},"stroke":{"field":"s","type":"nominal","legend":null,"scale":{"domain":["Proposed","EGC","U2","VSCD","FMI"],"range":["#0000ff","black","black","black","black"]}},"fill":{"field":"s","type":"nominal","legend":null,"scale":{"domain":["Proposed","EGC","U2","VSCD","FMI"],"range":["#0000ff","white","white","white","white"]}}}},
{"transform":[{"filter":"false"}],"mark":{"type":"point","filled":true,"opacity":1,"size":36,"strokeWidth":1},"encoding":{"shape":{"field":"s","type":"nominal","legend":{"title":null},"scale":{"domain":["Proposed","EGC","U2","VSCD","FMI"],"range":["M-3,0H-0.55M0.55,0H3M-1,-0.85H1L0,1Z","M-3,0H-1M1,0H3M-1,0A1,1,0,1,0,1,0A1,1,0,1,0,-1,0Z","M-3,0H-0.85M0.85,0H3M-0.85,-0.85H0.85V0.85H-0.85Z","M-3,0H-0.55M0.55,0H3M0,-1L1,0.85H-1Z","M-3,0H-0.6M0.6,0H3M0,-1.1L0.6,0L0,1.1L-0.6,0Z"]}},"stroke":{"field":"s","type":"nominal","legend":{"title":null},"scale":{"domain":["Proposed","EGC","U2","VSCD","FMI"],"range":["#0000ff","black","black","black","black"]}},"fill":{"field":"s","type":"nominal","legend":{"title":null},"scale":{"domain":["Proposed","EGC","U2","VSCD","FMI"],"range":["#0000ff","white","white","white","white"]}}}}
],"resolve":{"scale":{"shape":"independent","stroke":"independent","fill":"independent"}}},
{"title":"LSVT","width":258,"height":160,"transform":[{"filter":"datum.d==='LSVT'"}],"encoding":{"x":{"field":"x","type":"quantitative","scale":{"domain":[1,5]},"axis":{"values":[1,2,3,4,5],"title":"Number of selected features"}},"y":{"field":"v","type":"quantitative","scale":{"domain":[0,1]},"axis":{"values":[0,0.2,0.4,0.6,0.8,1],"format":"~f","title":"PDP"}}},"layer":[
{"mark":{"type":"line","strokeWidth":1},"encoding":{"stroke":{"field":"s","type":"nominal","legend":null,"scale":{"domain":["Proposed","EGC","U2","VSCD","FMI"],"range":["#0000ff","black","black","black","black"]}}}},
{"mark":{"type":"point","filled":true,"opacity":1,"size":36,"strokeWidth":1},"encoding":{"shape":{"field":"s","type":"nominal","legend":null,"scale":{"domain":["Proposed","EGC","U2","VSCD","FMI"],"range":["triangle-down","circle","M-0.85,-0.85H0.85V0.85H-0.85Z","triangle-up","M0,-1.1L0.6,0L0,1.1L-0.6,0Z"]}},"stroke":{"field":"s","type":"nominal","legend":null,"scale":{"domain":["Proposed","EGC","U2","VSCD","FMI"],"range":["#0000ff","black","black","black","black"]}},"fill":{"field":"s","type":"nominal","legend":null,"scale":{"domain":["Proposed","EGC","U2","VSCD","FMI"],"range":["#0000ff","white","white","white","white"]}}}},
{"transform":[{"filter":"false"}],"mark":{"type":"point","filled":true,"opacity":1,"size":36,"strokeWidth":1},"encoding":{"shape":{"field":"s","type":"nominal","legend":{"title":null},"scale":{"domain":["Proposed","EGC","U2","VSCD","FMI"],"range":["M-3,0H-0.55M0.55,0H3M-1,-0.85H1L0,1Z","M-3,0H-1M1,0H3M-1,0A1,1,0,1,0,1,0A1,1,0,1,0,-1,0Z","M-3,0H-0.85M0.85,0H3M-0.85,-0.85H0.85V0.85H-0.85Z","M-3,0H-0.55M0.55,0H3M0,-1L1,0.85H-1Z","M-3,0H-0.6M0.6,0H3M0,-1.1L0.6,0L0,1.1L-0.6,0Z"]}},"stroke":{"field":"s","type":"nominal","legend":{"title":null},"scale":{"domain":["Proposed","EGC","U2","VSCD","FMI"],"range":["#0000ff","black","black","black","black"]}},"fill":{"field":"s","type":"nominal","legend":{"title":null},"scale":{"domain":["Proposed","EGC","U2","VSCD","FMI"],"range":["#0000ff","white","white","white","white"]}}}}
],"resolve":{"scale":{"shape":"independent","stroke":"independent","fill":"independent"}}},
{"title":"Lung","width":258,"height":160,"transform":[{"filter":"datum.d==='Lung'"}],"encoding":{"x":{"field":"x","type":"quantitative","scale":{"domain":[1,5]},"axis":{"values":[1,2,3,4,5],"title":"Number of selected features"}},"y":{"field":"v","type":"quantitative","scale":{"domain":[0,1]},"axis":{"values":[0,0.2,0.4,0.6,0.8,1],"format":"~f","title":"PDP"}}},"layer":[
{"mark":{"type":"line","strokeWidth":1},"encoding":{"stroke":{"field":"s","type":"nominal","legend":null,"scale":{"domain":["Proposed","EGC","U2","VSCD","FMI"],"range":["#0000ff","black","black","black","black"]}}}},
{"mark":{"type":"point","filled":true,"opacity":1,"size":36,"strokeWidth":1},"encoding":{"shape":{"field":"s","type":"nominal","legend":null,"scale":{"domain":["Proposed","EGC","U2","VSCD","FMI"],"range":["triangle-down","circle","M-0.85,-0.85H0.85V0.85H-0.85Z","triangle-up","M0,-1.1L0.6,0L0,1.1L-0.6,0Z"]}},"stroke":{"field":"s","type":"nominal","legend":null,"scale":{"domain":["Proposed","EGC","U2","VSCD","FMI"],"range":["#0000ff","black","black","black","black"]}},"fill":{"field":"s","type":"nominal","legend":null,"scale":{"domain":["Proposed","EGC","U2","VSCD","FMI"],"range":["#0000ff","white","white","white","white"]}}}},
{"transform":[{"filter":"false"}],"mark":{"type":"point","filled":true,"opacity":1,"size":36,"strokeWidth":1},"encoding":{"shape":{"field":"s","type":"nominal","legend":{"title":null},"scale":{"domain":["Proposed","EGC","U2","VSCD","FMI"],"range":["M-3,0H-0.55M0.55,0H3M-1,-0.85H1L0,1Z","M-3,0H-1M1,0H3M-1,0A1,1,0,1,0,1,0A1,1,0,1,0,-1,0Z","M-3,0H-0.85M0.85,0H3M-0.85,-0.85H0.85V0.85H-0.85Z","M-3,0H-0.55M0.55,0H3M0,-1L1,0.85H-1Z","M-3,0H-0.6M0.6,0H3M0,-1.1L0.6,0L0,1.1L-0.6,0Z"]}},"stroke":{"field":"s","type":"nominal","legend":{"title":null},"scale":{"domain":["Proposed","EGC","U2","VSCD","FMI"],"range":["#0000ff","black","black","black","black"]}},"fill":{"field":"s","type":"nominal","legend":{"title":null},"scale":{"domain":["Proposed","EGC","U2","VSCD","FMI"],"range":["#0000ff","white","white","white","white"]}}}}
],"resolve":{"scale":{"shape":"independent","stroke":"independent","fill":"independent"}}},
{"title":"Lymphoma","width":258,"height":160,"transform":[{"filter":"datum.d==='Lymphoma'"}],"encoding":{"x":{"field":"x","type":"quantitative","scale":{"domain":[1,8]},"axis":{"values":[1,2,3,4,5,6,7,8],"title":"Number of selected features"}},"y":{"field":"v","type":"quantitative","scale":{"domain":[0,1]},"axis":{"values":[0,0.2,0.4,0.6,0.8,1],"format":"~f","title":"PDP"}}},"layer":[
{"mark":{"type":"line","strokeWidth":1},"encoding":{"stroke":{"field":"s","type":"nominal","legend":null,"scale":{"domain":["Proposed","EGC","U2","VSCD","FMI"],"range":["#0000ff","black","black","black","black"]}}}},
{"mark":{"type":"point","filled":true,"opacity":1,"size":36,"strokeWidth":1},"encoding":{"shape":{"field":"s","type":"nominal","legend":null,"scale":{"domain":["Proposed","EGC","U2","VSCD","FMI"],"range":["triangle-down","circle","M-0.85,-0.85H0.85V0.85H-0.85Z","triangle-up","M0,-1.1L0.6,0L0,1.1L-0.6,0Z"]}},"stroke":{"field":"s","type":"nominal","legend":null,"scale":{"domain":["Proposed","EGC","U2","VSCD","FMI"],"range":["#0000ff","black","black","black","black"]}},"fill":{"field":"s","type":"nominal","legend":null,"scale":{"domain":["Proposed","EGC","U2","VSCD","FMI"],"range":["#0000ff","white","white","white","white"]}}}},
{"transform":[{"filter":"false"}],"mark":{"type":"point","filled":true,"opacity":1,"size":36,"strokeWidth":1},"encoding":{"shape":{"field":"s","type":"nominal","legend":{"title":null},"scale":{"domain":["Proposed","EGC","U2","VSCD","FMI"],"range":["M-3,0H-0.55M0.55,0H3M-1,-0.85H1L0,1Z","M-3,0H-1M1,0H3M-1,0A1,1,0,1,0,1,0A1,1,0,1,0,-1,0Z","M-3,0H-0.85M0.85,0H3M-0.85,-0.85H0.85V0.85H-0.85Z","M-3,0H-0.55M0.55,0H3M0,-1L1,0.85H-1Z","M-3,0H-0.6M0.6,0H3M0,-1.1L0.6,0L0,1.1L-0.6,0Z"]}},"stroke":{"field":"s","type":"nominal","legend":{"title":null},"scale":{"domain":["Proposed","EGC","U2","VSCD","FMI"],"range":["#0000ff","black","black","black","black"]}},"fill":{"field":"s","type":"nominal","legend":{"title":null},"scale":{"domain":["Proposed","EGC","U2","VSCD","FMI"],"range":["#0000ff","white","white","white","white"]}}}}
],"resolve":{"scale":{"shape":"independent","stroke":"independent","fill":"independent"}}},
{"title":"Madelon","width":258,"height":160,"transform":[{"filter":"datum.d==='Madelon'"}],"encoding":{"x":{"field":"x","type":"quantitative","scale":{"domain":[1,9]},"axis":{"values":[1,2,3,4,5,6,7,8,9],"title":"Number of selected features"}},"y":{"field":"v","type":"quantitative","scale":{"domain":[0,1]},"axis":{"values":[0,0.2,0.4,0.6,0.8,1],"format":"~f","title":"PDP"}}},"layer":[
{"mark":{"type":"line","strokeWidth":1},"encoding":{"stroke":{"field":"s","type":"nominal","legend":null,"scale":{"domain":["Proposed","EGC","U2","VSCD","FMI"],"range":["#0000ff","black","black","black","black"]}}}},
{"mark":{"type":"point","filled":true,"opacity":1,"size":36,"strokeWidth":1},"encoding":{"shape":{"field":"s","type":"nominal","legend":null,"scale":{"domain":["Proposed","EGC","U2","VSCD","FMI"],"range":["triangle-down","circle","M-0.85,-0.85H0.85V0.85H-0.85Z","triangle-up","M0,-1.1L0.6,0L0,1.1L-0.6,0Z"]}},"stroke":{"field":"s","type":"nominal","legend":null,"scale":{"domain":["Proposed","EGC","U2","VSCD","FMI"],"range":["#0000ff","black","black","black","black"]}},"fill":{"field":"s","type":"nominal","legend":null,"scale":{"domain":["Proposed","EGC","U2","VSCD","FMI"],"range":["#0000ff","white","white","white","white"]}}}},
{"transform":[{"filter":"false"}],"mark":{"type":"point","filled":true,"opacity":1,"size":36,"strokeWidth":1},"encoding":{"shape":{"field":"s","type":"nominal","legend":{"title":null},"scale":{"domain":["Proposed","EGC","U2","VSCD","FMI"],"range":["M-3,0H-0.55M0.55,0H3M-1,-0.85H1L0,1Z","M-3,0H-1M1,0H3M-1,0A1,1,0,1,0,1,0A1,1,0,1,0,-1,0Z","M-3,0H-0.85M0.85,0H3M-0.85,-0.85H0.85V0.85H-0.85Z","M-3,0H-0.55M0.55,0H3M0,-1L1,0.85H-1Z","M-3,0H-0.6M0.6,0H3M0,-1.1L0.6,0L0,1.1L-0.6,0Z"]}},"stroke":{"field":"s","type":"nominal","legend":{"title":null},"scale":{"domain":["Proposed","EGC","U2","VSCD","FMI"],"range":["#0000ff","black","black","black","black"]}},"fill":{"field":"s","type":"nominal","legend":{"title":null},"scale":{"domain":["Proposed","EGC","U2","VSCD","FMI"],"range":["#0000ff","white","white","white","white"]}}}}
],"resolve":{"scale":{"shape":"independent","stroke":"independent","fill":"independent"}}},
{"title":"Mushrooms","width":258,"height":155,"transform":[{"filter":"datum.d==='Mushrooms'"}],"encoding":{"x":{"field":"x","type":"quantitative","scale":{"domain":[1,17]},"axis":{"values":[1,2,3,4,5,6,7,8,9,10,11,12,13,14,15,16,17],"labelAngle":-45,"titleY":24,"title":"Number of selected features"}},"y":{"field":"v","type":"quantitative","scale":{"domain":[0,0.1]},"axis":{"values":[0,0.02,0.04,0.06,0.08,0.1],"format":"~f","titleX":-26,"title":"PDP"}}},"layer":[
{"mark":{"type":"line","strokeWidth":1},"encoding":{"stroke":{"field":"s","type":"nominal","legend":null,"scale":{"domain":["Proposed","EGC","U2","VSCD","FMI"],"range":["#0000ff","black","black","black","black"]}}}},
{"mark":{"type":"point","filled":true,"opacity":1,"size":36,"strokeWidth":1},"encoding":{"shape":{"field":"s","type":"nominal","legend":null,"scale":{"domain":["Proposed","EGC","U2","VSCD","FMI"],"range":["triangle-down","circle","M-0.85,-0.85H0.85V0.85H-0.85Z","triangle-up","M0,-1.1L0.6,0L0,1.1L-0.6,0Z"]}},"stroke":{"field":"s","type":"nominal","legend":null,"scale":{"domain":["Proposed","EGC","U2","VSCD","FMI"],"range":["#0000ff","black","black","black","black"]}},"fill":{"field":"s","type":"nominal","legend":null,"scale":{"domain":["Proposed","EGC","U2","VSCD","FMI"],"range":["#0000ff","white","white","white","white"]}}}},
{"transform":[{"filter":"false"}],"mark":{"type":"point","filled":true,"opacity":1,"size":36,"strokeWidth":1},"encoding":{"shape":{"field":"s","type":"nominal","legend":{"title":null},"scale":{"domain":["Proposed","EGC","U2","VSCD","FMI"],"range":["M-3,0H-0.55M0.55,0H3M-1,-0.85H1L0,1Z","M-3,0H-1M1,0H3M-1,0A1,1,0,1,0,1,0A1,1,0,1,0,-1,0Z","M-3,0H-0.85M0.85,0H3M-0.85,-0.85H0.85V0.85H-0.85Z","M-3,0H-0.55M0.55,0H3M0,-1L1,0.85H-1Z","M-3,0H-0.6M0.6,0H3M0,-1.1L0.6,0L0,1.1L-0.6,0Z"]}},"stroke":{"field":"s","type":"nominal","legend":{"title":null},"scale":{"domain":["Proposed","EGC","U2","VSCD","FMI"],"range":["#0000ff","black","black","black","black"]}},"fill":{"field":"s","type":"nominal","legend":{"title":null},"scale":{"domain":["Proposed","EGC","U2","VSCD","FMI"],"range":["#0000ff","white","white","white","white"]}}}}
],"resolve":{"scale":{"shape":"independent","stroke":"independent","fill":"independent"}}},
{"title":"Nci9","width":258,"height":160,"transform":[{"filter":"datum.d==='Nci9'"}],"encoding":{"x":{"field":"x","type":"quantitative","scale":{"domain":[1,7]},"axis":{"values":[1,2,3,4,5,6,7],"title":"Number of selected features"}},"y":{"field":"v","type":"quantitative","scale":{"domain":[0,1]},"axis":{"values":[0,0.2,0.4,0.6,0.8,1],"format":"~f","title":"PDP"}}},"layer":[
{"mark":{"type":"line","strokeWidth":1},"encoding":{"stroke":{"field":"s","type":"nominal","legend":null,"scale":{"domain":["Proposed","EGC","U2","VSCD","FMI"],"range":["#0000ff","black","black","black","black"]}}}},
{"mark":{"type":"point","filled":true,"opacity":1,"size":36,"strokeWidth":1},"encoding":{"shape":{"field":"s","type":"nominal","legend":null,"scale":{"domain":["Proposed","EGC","U2","VSCD","FMI"],"range":["triangle-down","circle","M-0.85,-0.85H0.85V0.85H-0.85Z","triangle-up","M0,-1.1L0.6,0L0,1.1L-0.6,0Z"]}},"stroke":{"field":"s","type":"nominal","legend":null,"scale":{"domain":["Proposed","EGC","U2","VSCD","FMI"],"range":["#0000ff","black","black","black","black"]}},"fill":{"field":"s","type":"nominal","legend":null,"scale":{"domain":["Proposed","EGC","U2","VSCD","FMI"],"range":["#0000ff","white","white","white","white"]}}}},
{"transform":[{"filter":"false"}],"mark":{"type":"point","filled":true,"opacity":1,"size":36,"strokeWidth":1},"encoding":{"shape":{"field":"s","type":"nominal","legend":{"title":null},"scale":{"domain":["Proposed","EGC","U2","VSCD","FMI"],"range":["M-3,0H-0.55M0.55,0H3M-1,-0.85H1L0,1Z","M-3,0H-1M1,0H3M-1,0A1,1,0,1,0,1,0A1,1,0,1,0,-1,0Z","M-3,0H-0.85M0.85,0H3M-0.85,-0.85H0.85V0.85H-0.85Z","M-3,0H-0.55M0.55,0H3M0,-1L1,0.85H-1Z","M-3,0H-0.6M0.6,0H3M0,-1.1L0.6,0L0,1.1L-0.6,0Z"]}},"stroke":{"field":"s","type":"nominal","legend":{"title":null},"scale":{"domain":["Proposed","EGC","U2","VSCD","FMI"],"range":["#0000ff","black","black","black","black"]}},"fill":{"field":"s","type":"nominal","legend":{"title":null},"scale":{"domain":["Proposed","EGC","U2","VSCD","FMI"],"range":["#0000ff","white","white","white","white"]}}}}
],"resolve":{"scale":{"shape":"independent","stroke":"independent","fill":"independent"}}},
{"title":"Nursery","width":258,"height":155,"transform":[{"filter":"datum.d==='Nursery'"}],"encoding":{"x":{"field":"x","type":"quantitative","scale":{"domain":[1,17]},"axis":{"values":[1,2,3,4,5,6,7,8,9,10,11,12,13,14,15,16,17],"labelAngle":-45,"titleY":24,"title":"Number of selected features"}},"y":{"field":"v","type":"quantitative","scale":{"domain":[0,0.15]},"axis":{"values":[0,0.05,0.1,0.15],"format":"~f","title":"PDP"}}},"layer":[
{"mark":{"type":"line","strokeWidth":1},"encoding":{"stroke":{"field":"s","type":"nominal","legend":null,"scale":{"domain":["Proposed","EGC","U2","VSCD","FMI"],"range":["#0000ff","black","black","black","black"]}}}},
{"mark":{"type":"point","filled":true,"opacity":1,"size":36,"strokeWidth":1},"encoding":{"shape":{"field":"s","type":"nominal","legend":null,"scale":{"domain":["Proposed","EGC","U2","VSCD","FMI"],"range":["triangle-down","circle","M-0.85,-0.85H0.85V0.85H-0.85Z","triangle-up","M0,-1.1L0.6,0L0,1.1L-0.6,0Z"]}},"stroke":{"field":"s","type":"nominal","legend":null,"scale":{"domain":["Proposed","EGC","U2","VSCD","FMI"],"range":["#0000ff","black","black","black","black"]}},"fill":{"field":"s","type":"nominal","legend":null,"scale":{"domain":["Proposed","EGC","U2","VSCD","FMI"],"range":["#0000ff","white","white","white","white"]}}}},
{"transform":[{"filter":"false"}],"mark":{"type":"point","filled":true,"opacity":1,"size":36,"strokeWidth":1},"encoding":{"shape":{"field":"s","type":"nominal","legend":{"title":null},"scale":{"domain":["Proposed","EGC","U2","VSCD","FMI"],"range":["M-3,0H-0.55M0.55,0H3M-1,-0.85H1L0,1Z","M-3,0H-1M1,0H3M-1,0A1,1,0,1,0,1,0A1,1,0,1,0,-1,0Z","M-3,0H-0.85M0.85,0H3M-0.85,-0.85H0.85V0.85H-0.85Z","M-3,0H-0.55M0.55,0H3M0,-1L1,0.85H-1Z","M-3,0H-0.6M0.6,0H3M0,-1.1L0.6,0L0,1.1L-0.6,0Z"]}},"stroke":{"field":"s","type":"nominal","legend":{"title":null},"scale":{"domain":["Proposed","EGC","U2","VSCD","FMI"],"range":["#0000ff","black","black","black","black"]}},"fill":{"field":"s","type":"nominal","legend":{"title":null},"scale":{"domain":["Proposed","EGC","U2","VSCD","FMI"],"range":["#0000ff","white","white","white","white"]}}}}
],"resolve":{"scale":{"shape":"independent","stroke":"independent","fill":"independent"}}},
{"title":"Pdspeech","width":258,"height":155,"transform":[{"filter":"datum.d==='Pdspeech'"}],"encoding":{"x":{"field":"x","type":"quantitative","scale":{"domain":[1,17]},"axis":{"values":[1,2,3,4,5,6,7,8,9,10,11,12,13,14,15,16,17],"labelAngle":-45,"titleY":24,"title":"Number of selected features"}},"y":{"field":"v","type":"quantitative","scale":{"domain":[0,1]},"axis":{"values":[0,0.2,0.4,0.6,0.8,1],"format":"~f","title":"PDP"}}},"layer":[
{"mark":{"type":"line","strokeWidth":1},"encoding":{"stroke":{"field":"s","type":"nominal","legend":null,"scale":{"domain":["Proposed","EGC","U2","VSCD","FMI"],"range":["#0000ff","black","black","black","black"]}}}},
{"mark":{"type":"point","filled":true,"opacity":1,"size":36,"strokeWidth":1},"encoding":{"shape":{"field":"s","type":"nominal","legend":null,"scale":{"domain":["Proposed","EGC","U2","VSCD","FMI"],"range":["triangle-down","circle","M-0.85,-0.85H0.85V0.85H-0.85Z","triangle-up","M0,-1.1L0.6,0L0,1.1L-0.6,0Z"]}},"stroke":{"field":"s","type":"nominal","legend":null,"scale":{"domain":["Proposed","EGC","U2","VSCD","FMI"],"range":["#0000ff","black","black","black","black"]}},"fill":{"field":"s","type":"nominal","legend":null,"scale":{"domain":["Proposed","EGC","U2","VSCD","FMI"],"range":["#0000ff","white","white","white","white"]}}}},
{"transform":[{"filter":"false"}],"mark":{"type":"point","filled":true,"opacity":1,"size":36,"strokeWidth":1},"encoding":{"shape":{"field":"s","type":"nominal","legend":{"title":null},"scale":{"domain":["Proposed","EGC","U2","VSCD","FMI"],"range":["M-3,0H-0.55M0.55,0H3M-1,-0.85H1L0,1Z","M-3,0H-1M1,0H3M-1,0A1,1,0,1,0,1,0A1,1,0,1,0,-1,0Z","M-3,0H-0.85M0.85,0H3M-0.85,-0.85H0.85V0.85H-0.85Z","M-3,0H-0.55M0.55,0H3M0,-1L1,0.85H-1Z","M-3,0H-0.6M0.6,0H3M0,-1.1L0.6,0L0,1.1L-0.6,0Z"]}},"stroke":{"field":"s","type":"nominal","legend":{"title":null},"scale":{"domain":["Proposed","EGC","U2","VSCD","FMI"],"range":["#0000ff","black","black","black","black"]}},"fill":{"field":"s","type":"nominal","legend":{"title":null},"scale":{"domain":["Proposed","EGC","U2","VSCD","FMI"],"range":["#0000ff","white","white","white","white"]}}}}
],"resolve":{"scale":{"shape":"independent","stroke":"independent","fill":"independent"}}},
{"title":"Promoters","width":258,"height":155,"transform":[{"filter":"datum.d==='Promoters'"}],"encoding":{"x":{"field":"x","type":"quantitative","scale":{"domain":[1,17]},"axis":{"values":[1,2,3,4,5,6,7,8,9,10,11,12,13,14,15,16,17],"labelAngle":-45,"titleY":24,"title":"Number of selected features"}},"y":{"field":"v","type":"quantitative","scale":{"domain":[0,1]},"axis":{"values":[0,0.2,0.4,0.6,0.8,1],"format":"~f","title":"PDP"}}},"layer":[
{"mark":{"type":"line","strokeWidth":1},"encoding":{"stroke":{"field":"s","type":"nominal","legend":null,"scale":{"domain":["Proposed","EGC","U2","VSCD","FMI"],"range":["#0000ff","black","black","black","black"]}}}},
{"mark":{"type":"point","filled":true,"opacity":1,"size":36,"strokeWidth":1},"encoding":{"shape":{"field":"s","type":"nominal","legend":null,"scale":{"domain":["Proposed","EGC","U2","VSCD","FMI"],"range":["triangle-down","circle","M-0.85,-0.85H0.85V0.85H-0.85Z","triangle-up","M0,-1.1L0.6,0L0,1.1L-0.6,0Z"]}},"stroke":{"field":"s","type":"nominal","legend":null,"scale":{"domain":["Proposed","EGC","U2","VSCD","FMI"],"range":["#0000ff","black","black","black","black"]}},"fill":{"field":"s","type":"nominal","legend":null,"scale":{"domain":["Proposed","EGC","U2","VSCD","FMI"],"range":["#0000ff","white","white","white","white"]}}}},
{"transform":[{"filter":"false"}],"mark":{"type":"point","filled":true,"opacity":1,"size":36,"strokeWidth":1},"encoding":{"shape":{"field":"s","type":"nominal","legend":{"title":null},"scale":{"domain":["Proposed","EGC","U2","VSCD","FMI"],"range":["M-3,0H-0.55M0.55,0H3M-1,-0.85H1L0,1Z","M-3,0H-1M1,0H3M-1,0A1,1,0,1,0,1,0A1,1,0,1,0,-1,0Z","M-3,0H-0.85M0.85,0H3M-0.85,-0.85H0.85V0.85H-0.85Z","M-3,0H-0.55M0.55,0H3M0,-1L1,0.85H-1Z","M-3,0H-0.6M0.6,0H3M0,-1.1L0.6,0L0,1.1L-0.6,0Z"]}},"stroke":{"field":"s","type":"nominal","legend":{"title":null},"scale":{"domain":["Proposed","EGC","U2","VSCD","FMI"],"range":["#0000ff","black","black","black","black"]}},"fill":{"field":"s","type":"nominal","legend":{"title":null},"scale":{"domain":["Proposed","EGC","U2","VSCD","FMI"],"range":["#0000ff","white","white","white","white"]}}}}
],"resolve":{"scale":{"shape":"independent","stroke":"independent","fill":"independent"}}},
{"title":"Prostate_GE","width":258,"height":160,"transform":[{"filter":"datum.d==='Prostate_GE'"}],"encoding":{"x":{"field":"x","type":"quantitative","scale":{"domain":[1,4]},"axis":{"values":[1,2,3,4],"title":"Number of selected features"}},"y":{"field":"v","type":"quantitative","scale":{"domain":[0,1]},"axis":{"values":[0,0.2,0.4,0.6,0.8,1],"format":"~f","title":"PDP"}}},"layer":[
{"mark":{"type":"line","strokeWidth":1},"encoding":{"stroke":{"field":"s","type":"nominal","legend":null,"scale":{"domain":["Proposed","EGC","U2","VSCD","FMI"],"range":["#0000ff","black","black","black","black"]}}}},
{"mark":{"type":"point","filled":true,"opacity":1,"size":36,"strokeWidth":1},"encoding":{"shape":{"field":"s","type":"nominal","legend":null,"scale":{"domain":["Proposed","EGC","U2","VSCD","FMI"],"range":["triangle-down","circle","M-0.85,-0.85H0.85V0.85H-0.85Z","triangle-up","M0,-1.1L0.6,0L0,1.1L-0.6,0Z"]}},"stroke":{"field":"s","type":"nominal","legend":null,"scale":{"domain":["Proposed","EGC","U2","VSCD","FMI"],"range":["#0000ff","black","black","black","black"]}},"fill":{"field":"s","type":"nominal","legend":null,"scale":{"domain":["Proposed","EGC","U2","VSCD","FMI"],"range":["#0000ff","white","white","white","white"]}}}},
{"transform":[{"filter":"false"}],"mark":{"type":"point","filled":true,"opacity":1,"size":36,"strokeWidth":1},"encoding":{"shape":{"field":"s","type":"nominal","legend":{"title":null},"scale":{"domain":["Proposed","EGC","U2","VSCD","FMI"],"range":["M-3,0H-0.55M0.55,0H3M-1,-0.85H1L0,1Z","M-3,0H-1M1,0H3M-1,0A1,1,0,1,0,1,0A1,1,0,1,0,-1,0Z","M-3,0H-0.85M0.85,0H3M-0.85,-0.85H0.85V0.85H-0.85Z","M-3,0H-0.55M0.55,0H3M0,-1L1,0.85H-1Z","M-3,0H-0.6M0.6,0H3M0,-1.1L0.6,0L0,1.1L-0.6,0Z"]}},"stroke":{"field":"s","type":"nominal","legend":{"title":null},"scale":{"domain":["Proposed","EGC","U2","VSCD","FMI"],"range":["#0000ff","black","black","black","black"]}},"fill":{"field":"s","type":"nominal","legend":{"title":null},"scale":{"domain":["Proposed","EGC","U2","VSCD","FMI"],"range":["#0000ff","white","white","white","white"]}}}}
],"resolve":{"scale":{"shape":"independent","stroke":"independent","fill":"independent"}}},
{"title":"SCADI","width":258,"height":155,"transform":[{"filter":"datum.d==='SCADI'"}],"encoding":{"x":{"field":"x","type":"quantitative","scale":{"domain":[1,17]},"axis":{"values":[1,2,3,4,5,6,7,8,9,10,11,12,13,14,15,16,17],"labelAngle":-45,"titleY":24,"title":"Number of selected features"}},"y":{"field":"v","type":"quantitative","scale":{"domain":[0,1]},"axis":{"values":[0,0.2,0.4,0.6,0.8,1],"format":"~f","title":"PDP"}}},"layer":[
{"mark":{"type":"line","strokeWidth":1},"encoding":{"stroke":{"field":"s","type":"nominal","legend":null,"scale":{"domain":["Proposed","EGC","U2","VSCD","FMI"],"range":["#0000ff","black","black","black","black"]}}}},
{"mark":{"type":"point","filled":true,"opacity":1,"size":36,"strokeWidth":1},"encoding":{"shape":{"field":"s","type":"nominal","legend":null,"scale":{"domain":["Proposed","EGC","U2","VSCD","FMI"],"range":["triangle-down","circle","M-0.85,-0.85H0.85V0.85H-0.85Z","triangle-up","M0,-1.1L0.6,0L0,1.1L-0.6,0Z"]}},"stroke":{"field":"s","type":"nominal","legend":null,"scale":{"domain":["Proposed","EGC","U2","VSCD","FMI"],"range":["#0000ff","black","black","black","black"]}},"fill":{"field":"s","type":"nominal","legend":null,"scale":{"domain":["Proposed","EGC","U2","VSCD","FMI"],"range":["#0000ff","white","white","white","white"]}}}},
{"transform":[{"filter":"false"}],"mark":{"type":"point","filled":true,"opacity":1,"size":36,"strokeWidth":1},"encoding":{"shape":{"field":"s","type":"nominal","legend":{"title":null},"scale":{"domain":["Proposed","EGC","U2","VSCD","FMI"],"range":["M-3,0H-0.55M0.55,0H3M-1,-0.85H1L0,1Z","M-3,0H-1M1,0H3M-1,0A1,1,0,1,0,1,0A1,1,0,1,0,-1,0Z","M-3,0H-0.85M0.85,0H3M-0.85,-0.85H0.85V0.85H-0.85Z","M-3,0H-0.55M0.55,0H3M0,-1L1,0.85H-1Z","M-3,0H-0.6M0.6,0H3M0,-1.1L0.6,0L0,1.1L-0.6,0Z"]}},"stroke":{"field":"s","type":"nominal","legend":{"title":null},"scale":{"domain":["Proposed","EGC","U2","VSCD","FMI"],"range":["#0000ff","black","black","black","black"]}},"fill":{"field":"s","type":"nominal","legend":{"title":null},"scale":{"domain":["Proposed","EGC","U2","VSCD","FMI"],"range":["#0000ff","white","white","white","white"]}}}}
],"resolve":{"scale":{"shape":"independent","stroke":"independent","fill":"independent"}}},
{"title":"Semeion","width":258,"height":155,"transform":[{"filter":"datum.d==='Semeion'"}],"encoding":{"x":{"field":"x","type":"quantitative","scale":{"domain":[1,17]},"axis":{"values":[1,2,3,4,5,6,7,8,9,10,11,12,13,14,15,16,17],"labelAngle":-45,"titleY":24,"title":"Number of selected features"}},"y":{"field":"v","type":"quantitative","scale":{"domain":[0,1]},"axis":{"values":[0,0.2,0.4,0.6,0.8,1],"format":"~f","title":"PDP"}}},"layer":[
{"mark":{"type":"line","strokeWidth":1},"encoding":{"stroke":{"field":"s","type":"nominal","legend":null,"scale":{"domain":["Proposed","EGC","U2","VSCD","FMI"],"range":["#0000ff","black","black","black","black"]}}}},
{"mark":{"type":"point","filled":true,"opacity":1,"size":36,"strokeWidth":1},"encoding":{"shape":{"field":"s","type":"nominal","legend":null,"scale":{"domain":["Proposed","EGC","U2","VSCD","FMI"],"range":["triangle-down","circle","M-0.85,-0.85H0.85V0.85H-0.85Z","triangle-up","M0,-1.1L0.6,0L0,1.1L-0.6,0Z"]}},"stroke":{"field":"s","type":"nominal","legend":null,"scale":{"domain":["Proposed","EGC","U2","VSCD","FMI"],"range":["#0000ff","black","black","black","black"]}},"fill":{"field":"s","type":"nominal","legend":null,"scale":{"domain":["Proposed","EGC","U2","VSCD","FMI"],"range":["#0000ff","white","white","white","white"]}}}},
{"transform":[{"filter":"false"}],"mark":{"type":"point","filled":true,"opacity":1,"size":36,"strokeWidth":1},"encoding":{"shape":{"field":"s","type":"nominal","legend":{"title":null},"scale":{"domain":["Proposed","EGC","U2","VSCD","FMI"],"range":["M-3,0H-0.55M0.55,0H3M-1,-0.85H1L0,1Z","M-3,0H-1M1,0H3M-1,0A1,1,0,1,0,1,0A1,1,0,1,0,-1,0Z","M-3,0H-0.85M0.85,0H3M-0.85,-0.85H0.85V0.85H-0.85Z","M-3,0H-0.55M0.55,0H3M0,-1L1,0.85H-1Z","M-3,0H-0.6M0.6,0H3M0,-1.1L0.6,0L0,1.1L-0.6,0Z"]}},"stroke":{"field":"s","type":"nominal","legend":{"title":null},"scale":{"domain":["Proposed","EGC","U2","VSCD","FMI"],"range":["#0000ff","black","black","black","black"]}},"fill":{"field":"s","type":"nominal","legend":{"title":null},"scale":{"domain":["Proposed","EGC","U2","VSCD","FMI"],"range":["#0000ff","white","white","white","white"]}}}}
],"resolve":{"scale":{"shape":"independent","stroke":"independent","fill":"independent"}}},
{"title":"Splice","width":258,"height":155,"transform":[{"filter":"datum.d==='Splice'"}],"encoding":{"x":{"field":"x","type":"quantitative","scale":{"domain":[1,17]},"axis":{"values":[1,2,3,4,5,6,7,8,9,10,11,12,13,14,15,16,17],"labelAngle":-45,"titleY":24,"title":"Number of selected features"}},"y":{"field":"v","type":"quantitative","scale":{"domain":[0,0.8]},"axis":{"values":[0,0.2,0.4,0.6,0.8],"format":"~f","title":"PDP"}}},"layer":[
{"mark":{"type":"line","strokeWidth":1},"encoding":{"stroke":{"field":"s","type":"nominal","legend":null,"scale":{"domain":["Proposed","EGC","U2","VSCD","FMI"],"range":["#0000ff","black","black","black","black"]}}}},
{"mark":{"type":"point","filled":true,"opacity":1,"size":36,"strokeWidth":1},"encoding":{"shape":{"field":"s","type":"nominal","legend":null,"scale":{"domain":["Proposed","EGC","U2","VSCD","FMI"],"range":["triangle-down","circle","M-0.85,-0.85H0.85V0.85H-0.85Z","triangle-up","M0,-1.1L0.6,0L0,1.1L-0.6,0Z"]}},"stroke":{"field":"s","type":"nominal","legend":null,"scale":{"domain":["Proposed","EGC","U2","VSCD","FMI"],"range":["#0000ff","black","black","black","black"]}},"fill":{"field":"s","type":"nominal","legend":null,"scale":{"domain":["Proposed","EGC","U2","VSCD","FMI"],"range":["#0000ff","white","white","white","white"]}}}},
{"transform":[{"filter":"false"}],"mark":{"type":"point","filled":true,"opacity":1,"size":36,"strokeWidth":1},"encoding":{"shape":{"field":"s","type":"nominal","legend":{"title":null},"scale":{"domain":["Proposed","EGC","U2","VSCD","FMI"],"range":["M-3,0H-0.55M0.55,0H3M-1,-0.85H1L0,1Z","M-3,0H-1M1,0H3M-1,0A1,1,0,1,0,1,0A1,1,0,1,0,-1,0Z","M-3,0H-0.85M0.85,0H3M-0.85,-0.85H0.85V0.85H-0.85Z","M-3,0H-0.55M0.55,0H3M0,-1L1,0.85H-1Z","M-3,0H-0.6M0.6,0H3M0,-1.1L0.6,0L0,1.1L-0.6,0Z"]}},"stroke":{"field":"s","type":"nominal","legend":{"title":null},"scale":{"domain":["Proposed","EGC","U2","VSCD","FMI"],"range":["#0000ff","black","black","black","black"]}},"fill":{"field":"s","type":"nominal","legend":{"title":null},"scale":{"domain":["Proposed","EGC","U2","VSCD","FMI"],"range":["#0000ff","white","white","white","white"]}}}}
],"resolve":{"scale":{"shape":"independent","stroke":"independent","fill":"independent"}}},
{"title":"Tic-Tac-Toe","width":258,"height":155,"transform":[{"filter":"datum.d==='Tic-Tac-Toe'"}],"encoding":{"x":{"field":"x","type":"quantitative","scale":{"domain":[1,17]},"axis":{"values":[1,2,3,4,5,6,7,8,9,10,11,12,13,14,15,16,17],"labelAngle":-45,"titleY":24,"title":"Number of selected features"}},"y":{"field":"v","type":"quantitative","scale":{"domain":[0,1]},"axis":{"values":[0,0.2,0.4,0.6,0.8,1],"format":"~f","title":"PDP"}}},"layer":[
{"mark":{"type":"line","strokeWidth":1},"encoding":{"stroke":{"field":"s","type":"nominal","legend":null,"scale":{"domain":["Proposed","EGC","U2","VSCD","FMI"],"range":["#0000ff","black","black","black","black"]}}}},
{"mark":{"type":"point","filled":true,"opacity":1,"size":36,"strokeWidth":1},"encoding":{"shape":{"field":"s","type":"nominal","legend":null,"scale":{"domain":["Proposed","EGC","U2","VSCD","FMI"],"range":["triangle-down","circle","M-0.85,-0.85H0.85V0.85H-0.85Z","triangle-up","M0,-1.1L0.6,0L0,1.1L-0.6,0Z"]}},"stroke":{"field":"s","type":"nominal","legend":null,"scale":{"domain":["Proposed","EGC","U2","VSCD","FMI"],"range":["#0000ff","black","black","black","black"]}},"fill":{"field":"s","type":"nominal","legend":null,"scale":{"domain":["Proposed","EGC","U2","VSCD","FMI"],"range":["#0000ff","white","white","white","white"]}}}},
{"transform":[{"filter":"false"}],"mark":{"type":"point","filled":true,"opacity":1,"size":36,"strokeWidth":1},"encoding":{"shape":{"field":"s","type":"nominal","legend":{"title":null},"scale":{"domain":["Proposed","EGC","U2","VSCD","FMI"],"range":["M-3,0H-0.55M0.55,0H3M-1,-0.85H1L0,1Z","M-3,0H-1M1,0H3M-1,0A1,1,0,1,0,1,0A1,1,0,1,0,-1,0Z","M-3,0H-0.85M0.85,0H3M-0.85,-0.85H0.85V0.85H-0.85Z","M-3,0H-0.55M0.55,0H3M0,-1L1,0.85H-1Z","M-3,0H-0.6M0.6,0H3M0,-1.1L0.6,0L0,1.1L-0.6,0Z"]}},"stroke":{"field":"s","type":"nominal","legend":{"title":null},"scale":{"domain":["Proposed","EGC","U2","VSCD","FMI"],"range":["#0000ff","black","black","black","black"]}},"fill":{"field":"s","type":"nominal","legend":{"title":null},"scale":{"domain":["Proposed","EGC","U2","VSCD","FMI"],"range":["#0000ff","white","white","white","white"]}}}}
],"resolve":{"scale":{"shape":"independent","stroke":"independent","fill":"independent"}}},
{"title":"Umist","width":258,"height":155,"transform":[{"filter":"datum.d==='Umist'"}],"encoding":{"x":{"field":"x","type":"quantitative","scale":{"domain":[1,17]},"axis":{"values":[1,2,3,4,5,6,7,8,9,10,11,12,13,14,15,16,17],"labelAngle":-45,"titleY":24,"title":"Number of selected features"}},"y":{"field":"v","type":"quantitative","scale":{"domain":[0,1]},"axis":{"values":[0,0.2,0.4,0.6,0.8,1],"format":"~f","title":"PDP"}}},"layer":[
{"mark":{"type":"line","strokeWidth":1},"encoding":{"stroke":{"field":"s","type":"nominal","legend":null,"scale":{"domain":["Proposed","EGC","U2","VSCD","FMI"],"range":["#0000ff","black","black","black","black"]}}}},
{"mark":{"type":"point","filled":true,"opacity":1,"size":36,"strokeWidth":1},"encoding":{"shape":{"field":"s","type":"nominal","legend":null,"scale":{"domain":["Proposed","EGC","U2","VSCD","FMI"],"range":["triangle-down","circle","M-0.85,-0.85H0.85V0.85H-0.85Z","triangle-up","M0,-1.1L0.6,0L0,1.1L-0.6,0Z"]}},"stroke":{"field":"s","type":"nominal","legend":null,"scale":{"domain":["Proposed","EGC","U2","VSCD","FMI"],"range":["#0000ff","black","black","black","black"]}},"fill":{"field":"s","type":"nominal","legend":null,"scale":{"domain":["Proposed","EGC","U2","VSCD","FMI"],"range":["#0000ff","white","white","white","white"]}}}},
{"transform":[{"filter":"false"}],"mark":{"type":"point","filled":true,"opacity":1,"size":36,"strokeWidth":1},"encoding":{"shape":{"field":"s","type":"nominal","legend":{"title":null,"orient":"bottom-right"},"scale":{"domain":["Proposed","EGC","U2","VSCD","FMI"],"range":["M-3,0H-0.55M0.55,0H3M-1,-0.85H1L0,1Z","M-3,0H-1M1,0H3M-1,0A1,1,0,1,0,1,0A1,1,0,1,0,-1,0Z","M-3,0H-0.85M0.85,0H3M-0.85,-0.85H0.85V0.85H-0.85Z","M-3,0H-0.55M0.55,0H3M0,-1L1,0.85H-1Z","M-3,0H-0.6M0.6,0H3M0,-1.1L0.6,0L0,1.1L-0.6,0Z"]}},"stroke":{"field":"s","type":"nominal","legend":{"title":null,"orient":"bottom-right"},"scale":{"domain":["Proposed","EGC","U2","VSCD","FMI"],"range":["#0000ff","black","black","black","black"]}},"fill":{"field":"s","type":"nominal","legend":{"title":null,"orient":"bottom-right"},"scale":{"domain":["Proposed","EGC","U2","VSCD","FMI"],"range":["#0000ff","white","white","white","white"]}}}}
],"resolve":{"scale":{"shape":"independent","stroke":"independent","fill":"independent"}}},
{"title":"WarpAR10P","width":258,"height":160,"transform":[{"filter":"datum.d==='WarpAR10P'"}],"encoding":{"x":{"field":"x","type":"quantitative","scale":{"domain":[1,5]},"axis":{"values":[1,2,3,4,5],"title":"Number of selected features"}},"y":{"field":"v","type":"quantitative","scale":{"domain":[0,1]},"axis":{"values":[0,0.2,0.4,0.6,0.8,1],"format":"~f","title":"PDP"}}},"layer":[
{"mark":{"type":"line","strokeWidth":1},"encoding":{"stroke":{"field":"s","type":"nominal","legend":null,"scale":{"domain":["Proposed","EGC","U2","VSCD","FMI"],"range":["#0000ff","black","black","black","black"]}}}},
{"mark":{"type":"point","filled":true,"opacity":1,"size":36,"strokeWidth":1},"encoding":{"shape":{"field":"s","type":"nominal","legend":null,"scale":{"domain":["Proposed","EGC","U2","VSCD","FMI"],"range":["triangle-down","circle","M-0.85,-0.85H0.85V0.85H-0.85Z","triangle-up","M0,-1.1L0.6,0L0,1.1L-0.6,0Z"]}},"stroke":{"field":"s","type":"nominal","legend":null,"scale":{"domain":["Proposed","EGC","U2","VSCD","FMI"],"range":["#0000ff","black","black","black","black"]}},"fill":{"field":"s","type":"nominal","legend":null,"scale":{"domain":["Proposed","EGC","U2","VSCD","FMI"],"range":["#0000ff","white","white","white","white"]}}}},
{"transform":[{"filter":"false"}],"mark":{"type":"point","filled":true,"opacity":1,"size":36,"strokeWidth":1},"encoding":{"shape":{"field":"s","type":"nominal","legend":{"title":null,"orient":"bottom-right"},"scale":{"domain":["Proposed","EGC","U2","VSCD","FMI"],"range":["M-3,0H-0.55M0.55,0H3M-1,-0.85H1L0,1Z","M-3,0H-1M1,0H3M-1,0A1,1,0,1,0,1,0A1,1,0,1,0,-1,0Z","M-3,0H-0.85M0.85,0H3M-0.85,-0.85H0.85V0.85H-0.85Z","M-3,0H-0.55M0.55,0H3M0,-1L1,0.85H-1Z","M-3,0H-0.6M0.6,0H3M0,-1.1L0.6,0L0,1.1L-0.6,0Z"]}},"stroke":{"field":"s","type":"nominal","legend":{"title":null,"orient":"bottom-right"},"scale":{"domain":["Proposed","EGC","U2","VSCD","FMI"],"range":["#0000ff","black","black","black","black"]}},"fill":{"field":"s","type":"nominal","legend":{"title":null,"orient":"bottom-right"},"scale":{"domain":["Proposed","EGC","U2","VSCD","FMI"],"range":["#0000ff","white","white","white","white"]}}}}
],"resolve":{"scale":{"shape":"independent","stroke":"independent","fill":"independent"}}},
{"title":"WarpPIE10P","width":258,"height":160,"transform":[{"filter":"datum.d==='WarpPIE10P'"}],"encoding":{"x":{"field":"x","type":"quantitative","scale":{"domain":[1,10]},"axis":{"values":[1,2,3,4,5,6,7,8,9,10],"title":"Number of selected features"}},"y":{"field":"v","type":"quantitative","scale":{"domain":[0,1]},"axis":{"values":[0,0.2,0.4,0.6,0.8,1],"format":"~f","title":"PDP"}}},"layer":[
{"mark":{"type":"line","strokeWidth":1},"encoding":{"stroke":{"field":"s","type":"nominal","legend":null,"scale":{"domain":["Proposed","EGC","U2","VSCD","FMI"],"range":["#0000ff","black","black","black","black"]}}}},
{"mark":{"type":"point","filled":true,"opacity":1,"size":36,"strokeWidth":1},"encoding":{"shape":{"field":"s","type":"nominal","legend":null,"scale":{"domain":["Proposed","EGC","U2","VSCD","FMI"],"range":["triangle-down","circle","M-0.85,-0.85H0.85V0.85H-0.85Z","triangle-up","M0,-1.1L0.6,0L0,1.1L-0.6,0Z"]}},"stroke":{"field":"s","type":"nominal","legend":null,"scale":{"domain":["Proposed","EGC","U2","VSCD","FMI"],"range":["#0000ff","black","black","black","black"]}},"fill":{"field":"s","type":"nominal","legend":null,"scale":{"domain":["Proposed","EGC","U2","VSCD","FMI"],"range":["#0000ff","white","white","white","white"]}}}},
{"transform":[{"filter":"false"}],"mark":{"type":"point","filled":true,"opacity":1,"size":36,"strokeWidth":1},"encoding":{"shape":{"field":"s","type":"nominal","legend":{"title":null,"orient":"bottom-right"},"scale":{"domain":["Proposed","EGC","U2","VSCD","FMI"],"range":["M-3,0H-0.55M0.55,0H3M-1,-0.85H1L0,1Z","M-3,0H-1M1,0H3M-1,0A1,1,0,1,0,1,0A1,1,0,1,0,-1,0Z","M-3,0H-0.85M0.85,0H3M-0.85,-0.85H0.85V0.85H-0.85Z","M-3,0H-0.55M0.55,0H3M0,-1L1,0.85H-1Z","M-3,0H-0.6M0.6,0H3M0,-1.1L0.6,0L0,1.1L-0.6,0Z"]}},"stroke":{"field":"s","type":"nominal","legend":{"title":null,"orient":"bottom-right"},"scale":{"domain":["Proposed","EGC","U2","VSCD","FMI"],"range":["#0000ff","black","black","black","black"]}},"fill":{"field":"s","type":"nominal","legend":{"title":null,"orient":"bottom-right"},"scale":{"domain":["Proposed","EGC","U2","VSCD","FMI"],"range":["#0000ff","white","white","white","white"]}}}}
],"resolve":{"scale":{"shape":"independent","stroke":"independent","fill":"independent"}}},
{"title":"Yaleb","width":258,"height":155,"transform":[{"filter":"datum.d==='Yaleb'"}],"encoding":{"x":{"field":"x","type":"quantitative","scale":{"domain":[1,17]},"axis":{"values":[1,2,3,4,5,6,7,8,9,10,11,12,13,14,15,16,17],"labelAngle":-45,"titleY":24,"title":"Number of selected features"}},"y":{"field":"v","type":"quantitative","scale":{"domain":[0,1]},"axis":{"values":[0,0.2,0.4,0.6,0.8,1],"format":"~f","title":"PDP"}}},"layer":[
{"mark":{"type":"line","strokeWidth":1},"encoding":{"stroke":{"field":"s","type":"nominal","legend":null,"scale":{"domain":["Proposed","EGC","U2","VSCD","FMI"],"range":["#0000ff","black","black","black","black"]}}}},
{"mark":{"type":"point","filled":true,"opacity":1,"size":36,"strokeWidth":1},"encoding":{"shape":{"field":"s","type":"nominal","legend":null,"scale":{"domain":["Proposed","EGC","U2","VSCD","FMI"],"range":["triangle-down","circle","M-0.85,-0.85H0.85V0.85H-0.85Z","triangle-up","M0,-1.1L0.6,0L0,1.1L-0.6,0Z"]}},"stroke":{"field":"s","type":"nominal","legend":null,"scale":{"domain":["Proposed","EGC","U2","VSCD","FMI"],"range":["#0000ff","black","black","black","black"]}},"fill":{"field":"s","type":"nominal","legend":null,"scale":{"domain":["Proposed","EGC","U2","VSCD","FMI"],"range":["#0000ff","white","white","white","white"]}}}},
{"transform":[{"filter":"false"}],"mark":{"type":"point","filled":true,"opacity":1,"size":36,"strokeWidth":1},"encoding":{"shape":{"field":"s","type":"nominal","legend":{"title":null,"orient":"bottom-right"},"scale":{"domain":["Proposed","EGC","U2","VSCD","FMI"],"range":["M-3,0H-0.55M0.55,0H3M-1,-0.85H1L0,1Z","M-3,0H-1M1,0H3M-1,0A1,1,0,1,0,1,0A1,1,0,1,0,-1,0Z","M-3,0H-0.85M0.85,0H3M-0.85,-0.85H0.85V0.85H-0.85Z","M-3,0H-0.55M0.55,0H3M0,-1L1,0.85H-1Z","M-3,0H-0.6M0.6,0H3M0,-1.1L0.6,0L0,1.1L-0.6,0Z"]}},"stroke":{"field":"s","type":"nominal","legend":{"title":null,"orient":"bottom-right"},"scale":{"domain":["Proposed","EGC","U2","VSCD","FMI"],"range":["#0000ff","black","black","black","black"]}},"fill":{"field":"s","type":"nominal","legend":{"title":null,"orient":"bottom-right"},"scale":{"domain":["Proposed","EGC","U2","VSCD","FMI"],"range":["#0000ff","white","white","white","white"]}}}}
],"resolve":{"scale":{"shape":"independent","stroke":"independent","fill":"independent"}}}
],
"resolve": {"scale": {"x":"independent","y":"independent","shape":"independent","stroke":"independent","fill":"independent"}, "legend": {"shape":"independent","stroke":"independent","fill":"independent"}},
"config": {
 "view": {"stroke": "black", "strokeWidth": 1},
 "title": {"font": "Liberation Serif", "fontSize": 13, "fontWeight": "bold", "color": "black", "offset": -2},
 "axis": {"grid": false, "labelFont": "Liberation Serif", "labelFontSize": 12, "labelColor": "#262626", "titleFont": "Liberation Serif", "titleFontWeight": "normal", "titleFontSize": 22, "titleColor": "#262626", "domainColor": "black", "tickColor": "black", "tickSize": -3, "labelFlush": false, "labelOverlap": false},
 "axisX": {"titleY": 19, "titleBaseline": "top", "labelPadding": 6},
 "axisY": {"titleX": -21, "titleBaseline": "bottom", "labelPadding": 8},
 "legend": {"orient": "top-left", "offset": 4, "padding": 3, "strokeColor": "black", "fillColor": "white", "labelFont": "Liberation Serif", "labelFontSize": 12, "labelColor": "black", "symbolSize": 36, "symbolStrokeWidth": 1, "symbolOpacity": 1, "rowPadding": 2, "symbolOffset": 5, "labelOffset": 4}
}
}
